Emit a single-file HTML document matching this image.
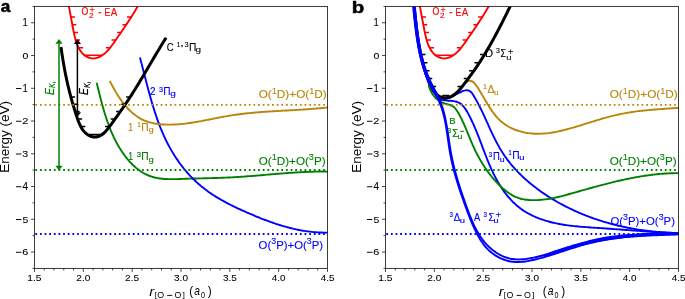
<!DOCTYPE html><html><head><meta charset="utf-8"><style>html,body{margin:0;padding:0;background:#fff;overflow:hidden}svg{display:block;will-change:transform}</style></head><body><svg width="685" height="299" viewBox="0 0 685 299" font-family="Liberation Sans, sans-serif">
<rect width="685" height="299" fill="#fff"/>
<defs><clipPath id="ca"><rect x="34.5" y="6.4" width="293" height="262"/></clipPath>
<clipPath id="cb"><rect x="385.5" y="6.4" width="293" height="262"/></clipPath></defs>
<g clip-path="url(#ca)">
<path d="M96.7,82.8 C96.78,83.12 97.02,84.09 97.18,84.74 C97.33,85.39 97.49,86.03 97.65,86.68 C97.81,87.33 97.97,87.98 98.13,88.63 C98.29,89.28 98.45,89.93 98.61,90.57 C98.77,91.22 98.93,91.87 99.09,92.52 C99.25,93.17 99.41,93.82 99.57,94.47 C99.74,95.12 99.9,95.78 100.07,96.43 C100.23,97.08 100.4,97.73 100.56,98.38 C100.73,99.03 100.9,99.68 101.07,100.33 C101.24,100.98 101.41,101.63 101.58,102.28 C101.76,102.93 101.93,103.57 102.11,104.22 C102.28,104.87 102.46,105.52 102.64,106.17 C102.82,106.82 103,107.46 103.19,108.11 C103.37,108.76 103.56,109.4 103.75,110.05 C103.94,110.7 104.13,111.34 104.32,111.99 C104.51,112.63 104.71,113.27 104.91,113.92 C105.11,114.56 105.31,115.2 105.51,115.84 C105.71,116.48 105.92,117.12 106.13,117.76 C106.34,118.4 106.55,119.04 106.77,119.68 C106.98,120.32 107.2,120.95 107.42,121.59 C107.65,122.22 107.87,122.85 108.1,123.49 C108.33,124.12 108.56,124.75 108.8,125.38 C109.04,126.01 109.28,126.64 109.52,127.26 C109.76,127.89 110.01,128.52 110.26,129.14 C110.51,129.76 110.77,130.39 111.03,131.01 C111.29,131.63 111.55,132.25 111.82,132.86 C112.09,133.48 112.36,134.1 112.64,134.71 C112.92,135.32 113.2,135.93 113.49,136.54 C113.77,137.15 114.06,137.76 114.36,138.37 C114.66,138.97 114.96,139.58 115.26,140.18 C115.57,140.78 115.88,141.38 116.2,141.98 C116.52,142.57 116.84,143.17 117.16,143.76 C117.49,144.36 117.82,144.95 118.16,145.53 C118.5,146.12 118.84,146.71 119.19,147.29 C119.54,147.87 119.9,148.46 120.26,149.03 C120.62,149.61 120.99,150.19 121.36,150.76 C121.73,151.33 122.11,151.9 122.5,152.46 C122.88,153.03 123.27,153.59 123.67,154.14 C124.06,154.7 124.47,155.25 124.87,155.79 C125.28,156.34 125.7,156.88 126.12,157.42 C126.54,157.95 126.96,158.48 127.39,159 C127.82,159.53 128.26,160.04 128.71,160.55 C129.15,161.06 129.6,161.57 130.05,162.06 C130.51,162.56 130.97,163.05 131.44,163.53 C131.9,164.01 132.38,164.48 132.86,164.94 C133.34,165.41 133.82,165.86 134.31,166.31 C134.8,166.76 135.3,167.19 135.8,167.62 C136.31,168.05 136.82,168.47 137.33,168.87 C137.85,169.28 138.37,169.68 138.9,170.07 C139.42,170.45 139.96,170.83 140.5,171.19 C141.04,171.56 141.58,171.91 142.13,172.25 C142.68,172.59 143.24,172.92 143.81,173.24 C144.37,173.56 144.94,173.86 145.52,174.15 C146.09,174.45 146.67,174.72 147.26,174.99 C147.85,175.25 148.44,175.51 149.04,175.74 C149.64,175.98 150.25,176.2 150.86,176.41 C151.48,176.62 152.1,176.81 152.72,176.99 C153.34,177.17 153.98,177.34 154.61,177.49 C155.25,177.64 155.89,177.78 156.53,177.91 C157.18,178.04 157.83,178.16 158.48,178.26 C159.14,178.37 159.8,178.46 160.46,178.55 C161.12,178.63 161.79,178.7 162.46,178.77 C163.13,178.83 163.8,178.89 164.48,178.94 C165.16,178.98 165.84,179.02 166.52,179.06 C167.2,179.09 167.88,179.11 168.57,179.13 C169.26,179.15 169.95,179.16 170.64,179.17 C171.33,179.17 172.02,179.17 172.71,179.17 C173.4,179.17 174.1,179.16 174.79,179.15 C175.49,179.13 176.18,179.12 176.88,179.1 C177.57,179.08 178.27,179.06 178.97,179.04 C179.66,179.02 180.36,178.99 181.05,178.97 C181.75,178.94 182.44,178.92 183.13,178.89 C183.83,178.86 184.52,178.84 185.21,178.81 C185.9,178.79 186.59,178.76 187.28,178.74 C187.96,178.72 188.65,178.7 189.33,178.67 C190.02,178.65 190.7,178.63 191.38,178.61 C192.06,178.59 192.74,178.57 193.42,178.55 C194.1,178.54 194.78,178.52 195.46,178.5 C196.13,178.48 196.81,178.46 197.48,178.45 C198.16,178.43 198.83,178.41 199.5,178.4 C200.18,178.38 200.85,178.37 201.52,178.35 C202.19,178.33 202.86,178.32 203.53,178.3 C204.2,178.29 204.87,178.27 205.53,178.25 C206.2,178.24 206.87,178.22 207.53,178.21 C208.2,178.19 208.87,178.17 209.53,178.16 C210.2,178.14 210.86,178.12 211.53,178.11 C212.19,178.09 212.85,178.07 213.52,178.05 C214.18,178.04 214.84,178.02 215.51,178 C216.17,177.98 216.83,177.96 217.49,177.94 C218.16,177.92 218.82,177.9 219.48,177.88 C220.14,177.85 220.81,177.83 221.47,177.81 C222.13,177.78 222.79,177.76 223.45,177.73 C224.12,177.71 224.78,177.68 225.44,177.66 C226.1,177.63 226.77,177.6 227.43,177.57 C228.09,177.54 228.75,177.51 229.42,177.48 C230.08,177.44 230.75,177.41 231.41,177.38 C232.07,177.34 232.74,177.3 233.4,177.27 C234.07,177.23 234.73,177.19 235.4,177.15 C236.06,177.11 236.73,177.07 237.4,177.03 C238.06,176.99 238.73,176.94 239.4,176.9 C240.06,176.85 240.73,176.81 241.4,176.76 C242.07,176.72 242.73,176.67 243.4,176.62 C244.07,176.57 244.74,176.52 245.41,176.48 C246.07,176.43 246.74,176.38 247.41,176.32 C248.08,176.27 248.75,176.22 249.42,176.17 C250.09,176.12 250.76,176.06 251.43,176.01 C252.1,175.96 252.77,175.9 253.44,175.85 C254.11,175.79 254.78,175.74 255.45,175.68 C256.12,175.63 256.8,175.57 257.47,175.52 C258.14,175.46 258.81,175.4 259.48,175.35 C260.15,175.29 260.82,175.23 261.5,175.18 C262.17,175.12 262.84,175.06 263.51,175.01 C264.18,174.95 264.86,174.89 265.53,174.83 C266.2,174.78 266.87,174.72 267.55,174.66 C268.22,174.6 268.89,174.55 269.57,174.49 C270.24,174.43 270.91,174.37 271.58,174.32 C272.26,174.26 272.93,174.2 273.6,174.15 C274.28,174.09 274.95,174.03 275.62,173.98 C276.3,173.92 276.97,173.86 277.64,173.81 C278.32,173.75 278.99,173.7 279.67,173.65 C280.34,173.59 281.01,173.54 281.69,173.48 C282.36,173.43 283.03,173.38 283.71,173.33 C284.38,173.27 285.05,173.22 285.73,173.17 C286.4,173.12 287.07,173.07 287.75,173.02 C288.42,172.97 289.09,172.92 289.77,172.88 C290.44,172.83 291.11,172.78 291.79,172.74 C292.46,172.69 293.13,172.64 293.81,172.6 C294.48,172.56 295.15,172.51 295.83,172.47 C296.5,172.43 297.17,172.39 297.85,172.35 C298.52,172.31 299.19,172.27 299.86,172.24 C300.54,172.2 301.21,172.16 301.88,172.13 C302.55,172.09 303.22,172.06 303.9,172.03 C304.57,172 305.24,171.96 305.91,171.94 C306.58,171.91 307.26,171.88 307.93,171.85 C308.6,171.83 309.27,171.8 309.94,171.78 C310.61,171.76 311.28,171.73 311.95,171.71 C312.62,171.69 313.29,171.68 313.96,171.66 C314.63,171.64 315.3,171.63 315.97,171.62 C316.64,171.6 317.31,171.59 317.98,171.58 C318.65,171.58 319.32,171.57 319.99,171.56 C320.66,171.56 321.33,171.55 321.99,171.55 C322.66,171.55 323.33,171.55 324,171.56 C324.67,171.56 325.33,171.56 326,171.57 C326.67,171.58 327.67,171.6 328,171.6" fill="none" stroke="#008000" stroke-width="1.9" stroke-linejoin="round" />
<path d="M139.9,57.4 C139.99,57.72 140.24,58.67 140.41,59.3 C140.58,59.94 140.75,60.58 140.92,61.21 C141.09,61.85 141.26,62.49 141.43,63.13 C141.6,63.77 141.77,64.41 141.93,65.05 C142.1,65.69 142.27,66.34 142.44,66.98 C142.6,67.63 142.77,68.27 142.94,68.92 C143.1,69.56 143.27,70.21 143.44,70.85 C143.6,71.5 143.77,72.15 143.94,72.8 C144.1,73.45 144.27,74.1 144.44,74.75 C144.6,75.4 144.77,76.05 144.94,76.7 C145.1,77.35 145.27,78 145.44,78.65 C145.61,79.3 145.77,79.95 145.94,80.61 C146.11,81.26 146.28,81.91 146.45,82.57 C146.62,83.22 146.79,83.87 146.96,84.53 C147.13,85.18 147.3,85.84 147.48,86.49 C147.65,87.14 147.82,87.8 148,88.45 C148.17,89.11 148.34,89.76 148.52,90.42 C148.7,91.07 148.87,91.73 149.05,92.38 C149.23,93.04 149.41,93.69 149.59,94.34 C149.77,95 149.95,95.65 150.13,96.31 C150.31,96.96 150.5,97.62 150.68,98.27 C150.87,98.92 151.05,99.58 151.24,100.23 C151.43,100.88 151.62,101.53 151.81,102.19 C152,102.84 152.19,103.49 152.39,104.14 C152.58,104.79 152.78,105.44 152.98,106.09 C153.17,106.74 153.37,107.39 153.58,108.04 C153.78,108.69 153.98,109.34 154.19,109.99 C154.39,110.63 154.6,111.28 154.81,111.93 C155.02,112.57 155.23,113.22 155.44,113.86 C155.65,114.51 155.87,115.15 156.09,115.79 C156.31,116.43 156.53,117.08 156.75,117.72 C156.97,118.36 157.2,119 157.43,119.63 C157.65,120.27 157.88,120.91 158.12,121.55 C158.35,122.18 158.58,122.82 158.82,123.45 C159.06,124.08 159.3,124.72 159.54,125.35 C159.79,125.98 160.03,126.61 160.28,127.24 C160.53,127.87 160.78,128.49 161.04,129.12 C161.29,129.74 161.55,130.37 161.81,130.99 C162.07,131.61 162.34,132.24 162.6,132.86 C162.87,133.47 163.14,134.09 163.41,134.71 C163.69,135.32 163.96,135.94 164.25,136.55 C164.53,137.16 164.81,137.78 165.1,138.39 C165.38,138.99 165.67,139.6 165.97,140.21 C166.26,140.81 166.56,141.42 166.86,142.02 C167.16,142.62 167.47,143.22 167.78,143.82 C168.09,144.41 168.4,145.01 168.72,145.6 C169.03,146.2 169.35,146.79 169.68,147.38 C170,147.97 170.33,148.55 170.66,149.14 C171,149.72 171.33,150.3 171.67,150.88 C172.01,151.46 172.35,152.04 172.7,152.62 C173.05,153.19 173.4,153.76 173.75,154.33 C174.11,154.9 174.46,155.47 174.83,156.04 C175.19,156.6 175.55,157.16 175.92,157.72 C176.29,158.28 176.67,158.84 177.04,159.39 C177.42,159.95 177.8,160.5 178.19,161.05 C178.57,161.59 178.96,162.14 179.35,162.68 C179.74,163.22 180.14,163.76 180.54,164.3 C180.94,164.84 181.34,165.37 181.75,165.9 C182.16,166.43 182.57,166.96 182.98,167.48 C183.4,168.01 183.82,168.53 184.24,169.04 C184.66,169.56 185.09,170.08 185.52,170.59 C185.95,171.1 186.38,171.6 186.82,172.11 C187.26,172.61 187.7,173.11 188.14,173.61 C188.59,174.11 189.04,174.6 189.49,175.09 C189.94,175.58 190.4,176.07 190.86,176.55 C191.32,177.03 191.78,177.51 192.25,177.98 C192.71,178.46 193.18,178.93 193.66,179.4 C194.13,179.87 194.61,180.33 195.09,180.79 C195.58,181.25 196.06,181.7 196.55,182.15 C197.04,182.61 197.53,183.05 198.03,183.5 C198.53,183.94 199.03,184.38 199.53,184.81 C200.04,185.25 200.55,185.68 201.06,186.11 C201.57,186.53 202.09,186.96 202.61,187.37 C203.13,187.79 203.65,188.2 204.18,188.61 C204.7,189.02 205.23,189.43 205.77,189.83 C206.3,190.23 206.84,190.62 207.38,191.02 C207.92,191.41 208.46,191.8 209.01,192.18 C209.56,192.56 210.11,192.94 210.66,193.32 C211.22,193.69 211.78,194.07 212.34,194.44 C212.9,194.8 213.46,195.17 214.02,195.53 C214.59,195.89 215.16,196.25 215.73,196.6 C216.3,196.96 216.88,197.31 217.45,197.65 C218.03,198 218.61,198.34 219.19,198.68 C219.77,199.02 220.36,199.36 220.94,199.7 C221.53,200.03 222.12,200.36 222.71,200.69 C223.3,201.02 223.89,201.34 224.49,201.66 C225.08,201.99 225.68,202.31 226.28,202.62 C226.88,202.94 227.48,203.25 228.08,203.57 C228.68,203.88 229.28,204.19 229.89,204.49 C230.49,204.8 231.1,205.1 231.71,205.4 C232.32,205.71 232.93,206.01 233.54,206.3 C234.15,206.6 234.76,206.9 235.38,207.19 C235.99,207.48 236.61,207.77 237.22,208.06 C237.84,208.35 238.45,208.64 239.07,208.92 C239.69,209.21 240.31,209.49 240.93,209.77 C241.55,210.06 242.17,210.34 242.79,210.61 C243.41,210.89 244.03,211.17 244.65,211.45 C245.27,211.72 245.89,212 246.51,212.27 C247.14,212.54 247.76,212.81 248.38,213.08 C249.01,213.35 249.63,213.62 250.25,213.89 C250.87,214.16 251.5,214.43 252.12,214.69 C252.75,214.96 253.37,215.22 253.99,215.48 C254.62,215.74 255.24,216.01 255.87,216.26 C256.49,216.52 257.12,216.78 257.75,217.04 C258.37,217.29 259,217.54 259.62,217.8 C260.25,218.05 260.88,218.3 261.5,218.54 C262.13,218.79 262.76,219.04 263.39,219.28 C264.02,219.53 264.65,219.77 265.27,220.01 C265.9,220.25 266.53,220.48 267.16,220.72 C267.79,220.95 268.42,221.18 269.06,221.41 C269.69,221.64 270.32,221.87 270.95,222.1 C271.58,222.32 272.22,222.54 272.85,222.76 C273.48,222.98 274.12,223.2 274.75,223.41 C275.39,223.63 276.02,223.84 276.66,224.05 C277.29,224.26 277.93,224.46 278.57,224.67 C279.2,224.87 279.84,225.07 280.48,225.27 C281.12,225.46 281.76,225.66 282.4,225.85 C283.04,226.04 283.68,226.22 284.32,226.41 C284.96,226.59 285.6,226.77 286.25,226.95 C286.89,227.13 287.53,227.3 288.18,227.47 C288.82,227.64 289.47,227.81 290.11,227.97 C290.76,228.13 291.41,228.29 292.05,228.45 C292.7,228.61 293.35,228.76 294,228.91 C294.65,229.05 295.3,229.2 295.95,229.34 C296.6,229.48 297.25,229.62 297.91,229.75 C298.56,229.88 299.21,230.01 299.87,230.13 C300.52,230.26 301.18,230.38 301.84,230.49 C302.49,230.61 303.15,230.72 303.81,230.83 C304.47,230.93 305.13,231.04 305.79,231.13 C306.45,231.23 307.11,231.33 307.77,231.42 C308.44,231.5 309.1,231.59 309.76,231.67 C310.43,231.75 311.1,231.82 311.76,231.89 C312.43,231.96 313.1,232.03 313.77,232.09 C314.44,232.15 315.11,232.21 315.78,232.26 C316.45,232.31 317.12,232.35 317.8,232.39 C318.47,232.43 319.15,232.47 319.82,232.5 C320.5,232.53 321.18,232.55 321.86,232.57 C322.54,232.59 323.22,232.61 323.9,232.62 C324.58,232.62 325.26,232.63 325.94,232.62 C326.63,232.62 327.66,232.6 328,232.6" fill="none" stroke="#0000ff" stroke-width="1.9" stroke-linejoin="round" stroke-linecap="butt"/>
<path d="M109.7,80.9 C109.85,81.18 110.28,82.03 110.58,82.6 C110.88,83.17 111.18,83.74 111.49,84.32 C111.8,84.9 112.11,85.48 112.43,86.06 C112.75,86.65 113.07,87.23 113.4,87.82 C113.73,88.41 114.06,89 114.4,89.59 C114.74,90.18 115.08,90.77 115.43,91.36 C115.78,91.95 116.13,92.54 116.49,93.13 C116.85,93.72 117.22,94.31 117.59,94.9 C117.96,95.48 118.34,96.07 118.72,96.65 C119.1,97.23 119.49,97.81 119.88,98.39 C120.28,98.97 120.68,99.54 121.08,100.11 C121.49,100.68 121.9,101.25 122.31,101.81 C122.73,102.36 123.15,102.92 123.58,103.47 C124.01,104.02 124.45,104.56 124.89,105.1 C125.33,105.64 125.77,106.17 126.23,106.69 C126.68,107.21 127.14,107.73 127.61,108.23 C128.07,108.74 128.54,109.24 129.02,109.73 C129.5,110.22 129.98,110.7 130.48,111.17 C130.97,111.64 131.46,112.1 131.97,112.55 C132.47,113 132.98,113.44 133.5,113.86 C134.02,114.29 134.54,114.7 135.07,115.11 C135.6,115.51 136.14,115.9 136.69,116.28 C137.23,116.66 137.78,117.02 138.34,117.37 C138.9,117.72 139.46,118.06 140.03,118.38 C140.61,118.7 141.19,119 141.77,119.3 C142.36,119.59 142.95,119.86 143.55,120.13 C144.15,120.39 144.75,120.64 145.36,120.88 C145.97,121.11 146.59,121.34 147.21,121.55 C147.83,121.76 148.46,121.95 149.09,122.14 C149.72,122.33 150.35,122.5 150.99,122.66 C151.63,122.82 152.28,122.97 152.93,123.11 C153.57,123.25 154.22,123.38 154.88,123.5 C155.53,123.62 156.19,123.72 156.85,123.82 C157.51,123.92 158.18,124.01 158.84,124.08 C159.51,124.16 160.18,124.23 160.85,124.29 C161.52,124.35 162.19,124.4 162.87,124.45 C163.54,124.49 164.21,124.53 164.89,124.55 C165.57,124.58 166.24,124.6 166.92,124.62 C167.6,124.63 168.27,124.64 168.95,124.64 C169.63,124.64 170.31,124.63 170.98,124.62 C171.66,124.6 172.34,124.59 173.01,124.56 C173.69,124.54 174.37,124.51 175.04,124.47 C175.72,124.44 176.39,124.4 177.07,124.35 C177.74,124.31 178.41,124.26 179.09,124.2 C179.76,124.15 180.44,124.09 181.11,124.03 C181.78,123.96 182.45,123.89 183.13,123.82 C183.8,123.75 184.47,123.67 185.14,123.59 C185.81,123.51 186.48,123.43 187.15,123.34 C187.83,123.25 188.5,123.16 189.17,123.06 C189.84,122.97 190.51,122.87 191.18,122.77 C191.85,122.67 192.52,122.56 193.18,122.46 C193.85,122.35 194.52,122.24 195.19,122.13 C195.86,122.02 196.53,121.9 197.2,121.79 C197.87,121.67 198.53,121.55 199.2,121.43 C199.87,121.31 200.54,121.19 201.2,121.06 C201.87,120.94 202.54,120.82 203.21,120.69 C203.87,120.56 204.54,120.43 205.21,120.31 C205.88,120.18 206.54,120.05 207.21,119.92 C207.88,119.79 208.54,119.65 209.21,119.52 C209.88,119.39 210.54,119.26 211.21,119.13 C211.88,118.99 212.54,118.86 213.21,118.73 C213.88,118.6 214.54,118.47 215.21,118.33 C215.88,118.2 216.54,118.07 217.21,117.94 C217.88,117.81 218.54,117.68 219.21,117.55 C219.88,117.42 220.54,117.3 221.21,117.17 C221.87,117.04 222.54,116.92 223.21,116.8 C223.88,116.67 224.54,116.55 225.21,116.43 C225.88,116.31 226.54,116.19 227.21,116.08 C227.88,115.96 228.54,115.85 229.21,115.74 C229.88,115.63 230.55,115.52 231.22,115.41 C231.88,115.31 232.55,115.2 233.22,115.1 C233.89,115 234.56,114.9 235.22,114.81 C235.89,114.71 236.56,114.62 237.23,114.53 C237.9,114.43 238.57,114.34 239.24,114.26 C239.9,114.17 240.57,114.09 241.24,114 C241.91,113.92 242.58,113.84 243.25,113.76 C243.92,113.68 244.59,113.6 245.26,113.53 C245.93,113.45 246.6,113.38 247.27,113.31 C247.94,113.24 248.61,113.17 249.28,113.1 C249.95,113.03 250.62,112.97 251.29,112.9 C251.96,112.84 252.63,112.78 253.3,112.72 C253.97,112.65 254.64,112.59 255.31,112.54 C255.99,112.48 256.66,112.42 257.33,112.36 C258,112.31 258.67,112.25 259.34,112.2 C260.01,112.15 260.68,112.1 261.36,112.05 C262.03,111.99 262.7,111.95 263.37,111.9 C264.04,111.85 264.71,111.8 265.39,111.75 C266.06,111.71 266.73,111.66 267.4,111.62 C268.07,111.57 268.75,111.53 269.42,111.49 C270.09,111.44 270.76,111.4 271.43,111.36 C272.11,111.32 272.78,111.28 273.45,111.24 C274.12,111.2 274.8,111.16 275.47,111.12 C276.14,111.08 276.81,111.04 277.49,111 C278.16,110.96 278.83,110.92 279.51,110.89 C280.18,110.85 280.85,110.81 281.52,110.77 C282.2,110.74 282.87,110.7 283.54,110.66 C284.22,110.62 284.89,110.59 285.56,110.55 C286.24,110.51 286.91,110.48 287.58,110.44 C288.26,110.4 288.93,110.37 289.6,110.33 C290.28,110.29 290.95,110.26 291.62,110.22 C292.3,110.18 292.97,110.14 293.64,110.1 C294.32,110.07 294.99,110.03 295.66,109.99 C296.34,109.95 297.01,109.91 297.68,109.87 C298.36,109.83 299.03,109.79 299.7,109.75 C300.38,109.71 301.05,109.67 301.73,109.62 C302.4,109.58 303.07,109.54 303.75,109.49 C304.42,109.45 305.09,109.41 305.77,109.36 C306.44,109.31 307.12,109.27 307.79,109.22 C308.46,109.17 309.14,109.12 309.81,109.07 C310.48,109.03 311.16,108.97 311.83,108.92 C312.51,108.87 313.18,108.82 313.85,108.76 C314.53,108.71 315.2,108.65 315.87,108.6 C316.55,108.54 317.22,108.48 317.9,108.42 C318.57,108.36 319.24,108.3 319.92,108.24 C320.59,108.17 321.26,108.11 321.94,108.04 C322.61,107.98 323.29,107.91 323.96,107.84 C324.63,107.77 325.31,107.7 325.98,107.62 C326.65,107.55 327.66,107.44 328,107.4" fill="none" stroke="#b8860b" stroke-width="1.9" stroke-linejoin="round" />
<path d="M67.6,-0 C67.67,0.35 67.89,1.41 68.03,2.1 C68.17,2.79 68.31,3.48 68.44,4.16 C68.58,4.84 68.71,5.51 68.84,6.18 C68.97,6.85 69.1,7.52 69.22,8.18 C69.35,8.84 69.48,9.5 69.6,10.15 C69.72,10.81 69.84,11.46 69.97,12.11 C70.09,12.76 70.21,13.4 70.33,14.05 C70.45,14.69 70.56,15.34 70.68,15.98 C70.8,16.63 70.92,17.27 71.04,17.91 C71.16,18.56 71.28,19.2 71.4,19.85 C71.52,20.5 71.64,21.14 71.76,21.79 C71.88,22.44 72,23.09 72.13,23.75 C72.25,24.41 72.37,25.06 72.5,25.73 C72.63,26.39 72.76,27.05 72.89,27.73 C73.02,28.4 73.15,29.07 73.29,29.76 C73.42,30.44 73.56,31.13 73.7,31.82 C73.84,32.51 73.99,33.21 74.14,33.91 C74.29,34.61 74.44,35.32 74.61,36.02 C74.77,36.73 74.94,37.43 75.12,38.13 C75.3,38.83 75.49,39.53 75.69,40.22 C75.89,40.91 76.1,41.6 76.33,42.28 C76.55,42.96 76.79,43.63 77.04,44.29 C77.3,44.95 77.56,45.6 77.85,46.24 C78.13,46.87 78.43,47.5 78.75,48.1 C79.07,48.71 79.41,49.3 79.77,49.87 C80.13,50.44 80.51,51 80.91,51.53 C81.31,52.06 81.74,52.58 82.19,53.06 C82.64,53.55 83.11,54.01 83.61,54.45 C84.1,54.88 84.62,55.29 85.15,55.67 C85.68,56.04 86.24,56.39 86.8,56.7 C87.37,57.01 87.95,57.28 88.54,57.51 C89.13,57.74 89.73,57.94 90.33,58.08 C90.94,58.23 91.55,58.33 92.17,58.39 C92.78,58.44 93.4,58.44 94.01,58.4 C94.63,58.36 95.25,58.27 95.86,58.13 C96.48,58 97.09,57.82 97.7,57.61 C98.3,57.39 98.91,57.14 99.5,56.85 C100.1,56.57 100.69,56.24 101.27,55.89 C101.85,55.55 102.42,55.17 102.98,54.76 C103.55,54.36 104.1,53.93 104.63,53.49 C105.17,53.04 105.7,52.58 106.21,52.1 C106.71,51.62 107.21,51.12 107.69,50.61 C108.17,50.11 108.64,49.58 109.1,49.05 C109.55,48.52 110,47.98 110.43,47.43 C110.87,46.88 111.3,46.33 111.72,45.76 C112.14,45.2 112.55,44.63 112.96,44.06 C113.36,43.5 113.76,42.92 114.16,42.35 C114.56,41.77 114.96,41.2 115.35,40.63 C115.74,40.05 116.13,39.48 116.52,38.91 C116.92,38.35 117.3,37.78 117.69,37.22 C118.08,36.65 118.47,36.09 118.86,35.53 C119.24,34.97 119.63,34.41 120.01,33.85 C120.4,33.29 120.78,32.73 121.16,32.18 C121.54,31.62 121.93,31.07 122.3,30.51 C122.68,29.96 123.06,29.4 123.44,28.85 C123.82,28.3 124.19,27.74 124.57,27.19 C124.94,26.64 125.32,26.08 125.69,25.53 C126.06,24.97 126.43,24.42 126.8,23.87 C127.17,23.31 127.54,22.75 127.91,22.2 C128.27,21.64 128.64,21.08 129,20.52 C129.37,19.96 129.73,19.4 130.09,18.84 C130.46,18.28 130.82,17.71 131.17,17.15 C131.53,16.58 131.89,16.01 132.25,15.44 C132.6,14.87 132.96,14.3 133.31,13.72 C133.66,13.15 134.01,12.57 134.37,11.99 C134.72,11.41 135.06,10.82 135.41,10.23 C135.76,9.65 136.1,9.05 136.45,8.46 C136.79,7.87 137.13,7.27 137.47,6.66 C137.82,6.06 138.15,5.46 138.49,4.85 C138.83,4.23 139.33,3.31 139.5,3" fill="none" stroke="#ff0000" stroke-width="1.9" stroke-linejoin="round" />
<line x1="70.98" y1="17" x2="74.98" y2="17" stroke="#ff0000" stroke-width="1.5" />
<line x1="127.06" y1="17" x2="131.06" y2="17" stroke="#ff0000" stroke-width="1.5" />
<line x1="72.25" y1="24.8" x2="76.25" y2="24.8" stroke="#ff0000" stroke-width="1.5" />
<line x1="122.42" y1="24.8" x2="126.42" y2="24.8" stroke="#ff0000" stroke-width="1.5" />
<line x1="73.91" y1="32.4" x2="77.91" y2="32.4" stroke="#ff0000" stroke-width="1.5" />
<line x1="117.14" y1="32.4" x2="121.14" y2="32.4" stroke="#ff0000" stroke-width="1.5" />
<line x1="75.95" y1="40.1" x2="79.95" y2="40.1" stroke="#ff0000" stroke-width="1.5" />
<line x1="111.57" y1="40.1" x2="115.57" y2="40.1" stroke="#ff0000" stroke-width="1.5" />
<line x1="79.07" y1="47.8" x2="83.07" y2="47.8" stroke="#ff0000" stroke-width="1.5" />
<line x1="105.8" y1="47.8" x2="109.8" y2="47.8" stroke="#ff0000" stroke-width="1.5" />
<line x1="84.9" y1="55.3" x2="101.8" y2="55.3" stroke="#ff0000" stroke-width="1.5" />
<path d="M61,47 C61.05,47.35 61.19,48.39 61.29,49.08 C61.38,49.77 61.48,50.46 61.58,51.14 C61.68,51.83 61.78,52.51 61.88,53.2 C61.98,53.88 62.08,54.56 62.18,55.23 C62.29,55.91 62.39,56.59 62.5,57.26 C62.6,57.94 62.71,58.61 62.82,59.28 C62.93,59.95 63.04,60.62 63.15,61.28 C63.26,61.95 63.37,62.62 63.48,63.28 C63.6,63.94 63.71,64.61 63.83,65.27 C63.95,65.93 64.07,66.59 64.19,67.25 C64.31,67.9 64.43,68.56 64.55,69.22 C64.67,69.87 64.8,70.53 64.92,71.18 C65.05,71.84 65.18,72.49 65.31,73.14 C65.43,73.79 65.57,74.44 65.7,75.1 C65.83,75.75 65.96,76.4 66.1,77.04 C66.24,77.69 66.37,78.34 66.51,78.99 C66.65,79.64 66.79,80.29 66.94,80.93 C67.08,81.58 67.22,82.23 67.37,82.87 C67.52,83.52 67.67,84.17 67.82,84.81 C67.97,85.46 68.12,86.11 68.27,86.75 C68.43,87.4 68.58,88.04 68.74,88.69 C68.9,89.34 69.06,89.98 69.22,90.63 C69.38,91.28 69.55,91.92 69.71,92.57 C69.88,93.22 70.05,93.87 70.22,94.52 C70.39,95.16 70.56,95.81 70.73,96.46 C70.91,97.11 71.09,97.76 71.26,98.41 C71.44,99.06 71.62,99.71 71.81,100.37 C71.99,101.02 72.18,101.67 72.36,102.33 C72.55,102.98 72.74,103.64 72.93,104.29 C73.13,104.95 73.32,105.61 73.52,106.27 C73.72,106.93 73.91,107.59 74.12,108.25 C74.32,108.91 74.52,109.57 74.73,110.24 C74.93,110.9 75.14,111.57 75.36,112.24 C75.57,112.9 75.78,113.57 76,114.24 C76.21,114.92 76.43,115.59 76.65,116.26 C76.88,116.94 77.1,117.61 77.33,118.29 C77.56,118.96 77.8,119.63 78.04,120.3 C78.29,120.96 78.54,121.63 78.8,122.28 C79.06,122.93 79.33,123.58 79.61,124.21 C79.89,124.85 80.19,125.47 80.5,126.08 C80.81,126.69 81.13,127.29 81.47,127.87 C81.81,128.44 82.16,129.01 82.54,129.55 C82.91,130.09 83.31,130.62 83.72,131.12 C84.13,131.61 84.57,132.09 85.02,132.54 C85.48,133 85.96,133.42 86.47,133.82 C86.97,134.22 87.51,134.59 88.06,134.92 C88.61,135.26 89.19,135.56 89.78,135.83 C90.37,136.09 90.98,136.32 91.6,136.5 C92.21,136.68 92.84,136.81 93.46,136.9 C94.08,136.98 94.7,137.02 95.32,137 C95.93,136.98 96.54,136.91 97.14,136.79 C97.73,136.66 98.32,136.49 98.89,136.28 C99.46,136.06 100.02,135.79 100.56,135.49 C101.11,135.19 101.64,134.85 102.16,134.48 C102.69,134.1 103.2,133.69 103.7,133.25 C104.2,132.81 104.69,132.34 105.17,131.85 C105.65,131.36 106.13,130.84 106.59,130.31 C107.06,129.78 107.52,129.23 107.97,128.67 C108.42,128.1 108.87,127.52 109.31,126.94 C109.75,126.36 110.18,125.77 110.61,125.18 C111.04,124.59 111.47,124 111.89,123.41 C112.31,122.82 112.73,122.24 113.15,121.66 C113.56,121.08 113.98,120.5 114.39,119.93 C114.8,119.36 115.2,118.79 115.61,118.22 C116.01,117.65 116.41,117.09 116.81,116.53 C117.21,115.97 117.61,115.41 118,114.85 C118.4,114.29 118.79,113.74 119.18,113.19 C119.57,112.63 119.95,112.08 120.34,111.53 C120.72,110.98 121.11,110.44 121.49,109.89 C121.87,109.34 122.25,108.8 122.63,108.25 C123,107.71 123.38,107.16 123.75,106.62 C124.13,106.07 124.5,105.53 124.87,104.98 C125.24,104.44 125.61,103.89 125.98,103.35 C126.35,102.8 126.71,102.26 127.08,101.71 C127.44,101.16 127.81,100.62 128.17,100.07 C128.53,99.52 128.9,98.97 129.26,98.42 C129.62,97.86 129.98,97.31 130.34,96.76 C130.7,96.2 131.06,95.64 131.42,95.08 C131.78,94.52 132.14,93.96 132.49,93.4 C132.85,92.83 133.21,92.27 133.56,91.7 C133.92,91.14 134.28,90.57 134.63,90 C134.99,89.43 135.34,88.86 135.69,88.28 C136.05,87.71 136.4,87.14 136.76,86.56 C137.11,85.99 137.46,85.41 137.81,84.83 C138.17,84.25 138.52,83.68 138.87,83.1 C139.22,82.52 139.57,81.93 139.92,81.35 C140.27,80.77 140.62,80.19 140.97,79.6 C141.32,79.02 141.67,78.43 142.02,77.85 C142.37,77.26 142.72,76.68 143.07,76.09 C143.41,75.5 143.76,74.92 144.11,74.33 C144.46,73.74 144.81,73.15 145.16,72.56 C145.5,71.97 145.85,71.39 146.2,70.8 C146.55,70.21 146.89,69.62 147.24,69.03 C147.59,68.44 147.93,67.85 148.28,67.26 C148.63,66.67 148.98,66.08 149.32,65.49 C149.67,64.9 150.02,64.31 150.36,63.72 C150.71,63.13 151.06,62.54 151.4,61.95 C151.75,61.36 152.1,60.77 152.44,60.18 C152.79,59.6 153.14,59.01 153.49,58.42 C153.83,57.83 154.18,57.25 154.53,56.66 C154.88,56.07 155.22,55.49 155.57,54.9 C155.92,54.32 156.27,53.73 156.62,53.15 C156.96,52.57 157.31,51.98 157.66,51.4 C158.01,50.82 158.36,50.24 158.71,49.66 C159.06,49.08 159.41,48.5 159.76,47.93 C160.11,47.35 160.46,46.78 160.81,46.2 C161.16,45.63 161.51,45.05 161.86,44.48 C162.21,43.91 162.56,43.34 162.92,42.77 C163.27,42.2 163.62,41.64 163.97,41.07 C164.33,40.51 164.68,39.94 165.04,39.38 C165.39,38.82 165.92,37.98 166.1,37.7" fill="none" stroke="#000000" stroke-width="3" stroke-linejoin="round" stroke-linecap="butt"/>
<line x1="70.79" y1="96.9" x2="75.09" y2="96.9" stroke="#000000" stroke-width="1.5" />
<line x1="126.08" y1="96.9" x2="130.38" y2="96.9" stroke="#000000" stroke-width="1.5" />
<line x1="73.01" y1="104.2" x2="77.31" y2="104.2" stroke="#000000" stroke-width="1.5" />
<line x1="121.29" y1="104.2" x2="125.59" y2="104.2" stroke="#000000" stroke-width="1.5" />
<line x1="75.35" y1="111.6" x2="79.65" y2="111.6" stroke="#000000" stroke-width="1.5" />
<line x1="116.04" y1="111.6" x2="120.34" y2="111.6" stroke="#000000" stroke-width="1.5" />
<line x1="77.75" y1="119" x2="82.05" y2="119" stroke="#000000" stroke-width="1.5" />
<line x1="110.7" y1="119" x2="115" y2="119" stroke="#000000" stroke-width="1.5" />
<line x1="81" y1="126.5" x2="85.3" y2="126.5" stroke="#000000" stroke-width="1.5" />
<line x1="105.01" y1="126.5" x2="109.31" y2="126.5" stroke="#000000" stroke-width="1.5" />
<line x1="87.8" y1="134.4" x2="101.2" y2="134.4" stroke="#000000" stroke-width="1.5" />
<line x1="34.5" y1="104.8" x2="327.5" y2="104.8" stroke="#b8860b" stroke-width="1.8" stroke-dasharray="1.75 2.892" stroke-dashoffset="-0.8"/>
<line x1="34.5" y1="170" x2="327.5" y2="170" stroke="#008000" stroke-width="1.8" stroke-dasharray="1.75 2.892" stroke-dashoffset="-0.8"/>
<line x1="34.5" y1="234" x2="327.5" y2="234" stroke="#0000ff" stroke-width="1.8" stroke-dasharray="1.75 2.892" stroke-dashoffset="-0.8"/>
</g>
<line x1="59" y1="166.3" x2="59" y2="43.3" stroke="#008000" stroke-width="1.5" />
<path d="M59,39 L55.4,43.8 L62.6,43.8 Z" fill="#008000"/>
<path d="M59,170.6 L55.4,165.8 L62.6,165.8 Z" fill="#008000"/>
<line x1="77.4" y1="112.7" x2="77.4" y2="43.6" stroke="#000000" stroke-width="1.5" />
<path d="M77.4,39.3 L73.8,44.1 L81,44.1 Z" fill="#000000"/>
<path d="M77.4,117 L73.8,112.2 L81,112.2 Z" fill="#000000"/>
<g clip-path="url(#cb)">
<path d="M433,86 C433.09,86.35 433.31,87.42 433.53,88.09 C433.76,88.77 434.04,89.43 434.36,90.05 C434.67,90.68 435.04,91.29 435.43,91.86 C435.83,92.43 436.26,92.98 436.73,93.48 C437.19,93.99 437.68,94.46 438.2,94.89 C438.71,95.32 439.26,95.71 439.81,96.06 C440.37,96.4 440.95,96.71 441.54,96.96 C442.12,97.21 442.73,97.42 443.33,97.56 C443.93,97.71 444.55,97.81 445.16,97.85 C445.77,97.88 446.38,97.86 446.99,97.78 C447.59,97.7 448.19,97.56 448.79,97.37 C449.39,97.18 449.98,96.94 450.56,96.66 C451.15,96.37 451.73,96.04 452.3,95.67 C452.87,95.31 453.44,94.9 453.99,94.46 C454.55,94.02 455.09,93.55 455.63,93.06 C456.16,92.56 456.69,92.03 457.2,91.49 C457.72,90.95 458.22,90.39 458.71,89.82 C459.21,89.25 459.68,88.65 460.16,88.08 C460.64,87.5 461.11,86.92 461.59,86.36 C462.06,85.8 462.53,85.25 463.02,84.74 C463.5,84.23 463.98,83.74 464.48,83.3 C464.98,82.86 465.49,82.46 466.01,82.12 C466.54,81.78 467.09,81.48 467.64,81.28 C468.19,81.07 468.76,80.91 469.32,80.87 C469.87,80.82 470.43,80.86 470.96,80.99 C471.49,81.13 472.01,81.37 472.51,81.67 C473.01,81.98 473.49,82.37 473.96,82.81 C474.44,83.25 474.89,83.76 475.33,84.29 C475.78,84.82 476.21,85.41 476.63,86 C477.04,86.59 477.45,87.22 477.84,87.83 C478.24,88.44 478.62,89.06 478.99,89.67 C479.36,90.27 479.72,90.86 480.08,91.45 C480.43,92.03 480.78,92.61 481.12,93.18 C481.46,93.76 481.8,94.32 482.13,94.89 C482.46,95.45 482.79,96.01 483.12,96.57 C483.44,97.13 483.77,97.69 484.1,98.25 C484.43,98.81 484.75,99.38 485.09,99.94 C485.42,100.51 485.75,101.08 486.09,101.66 C486.43,102.23 486.78,102.81 487.13,103.39 C487.48,103.97 487.83,104.55 488.19,105.13 C488.55,105.71 488.91,106.3 489.28,106.88 C489.65,107.46 490.02,108.04 490.4,108.61 C490.78,109.19 491.17,109.77 491.56,110.34 C491.95,110.91 492.35,111.47 492.76,112.03 C493.17,112.59 493.58,113.15 494,113.7 C494.42,114.25 494.85,114.79 495.28,115.32 C495.72,115.86 496.16,116.38 496.61,116.9 C497.07,117.41 497.53,117.92 498,118.41 C498.47,118.91 498.94,119.39 499.43,119.86 C499.92,120.33 500.41,120.79 500.92,121.24 C501.43,121.68 501.94,122.11 502.46,122.53 C502.99,122.95 503.52,123.36 504.06,123.75 C504.6,124.15 505.15,124.53 505.7,124.9 C506.26,125.27 506.82,125.62 507.39,125.97 C507.96,126.31 508.54,126.64 509.12,126.96 C509.71,127.28 510.3,127.59 510.9,127.89 C511.49,128.18 512.1,128.47 512.7,128.74 C513.31,129.01 513.93,129.27 514.54,129.52 C515.16,129.77 515.79,130.01 516.42,130.23 C517.05,130.46 517.68,130.67 518.32,130.88 C518.95,131.08 519.6,131.27 520.24,131.45 C520.88,131.64 521.53,131.81 522.19,131.96 C522.84,132.12 523.49,132.27 524.15,132.41 C524.81,132.55 525.47,132.67 526.13,132.79 C526.79,132.91 527.45,133.01 528.12,133.11 C528.79,133.21 529.45,133.29 530.12,133.37 C530.79,133.44 531.46,133.51 532.13,133.56 C532.8,133.62 533.47,133.66 534.14,133.7 C534.81,133.73 535.48,133.76 536.15,133.77 C536.82,133.79 537.49,133.79 538.16,133.79 C538.83,133.79 539.51,133.78 540.18,133.76 C540.85,133.74 541.52,133.71 542.19,133.67 C542.86,133.64 543.53,133.59 544.2,133.54 C544.87,133.48 545.54,133.42 546.21,133.36 C546.88,133.29 547.55,133.21 548.22,133.13 C548.89,133.05 549.56,132.96 550.23,132.87 C550.9,132.77 551.56,132.67 552.23,132.56 C552.9,132.45 553.57,132.34 554.24,132.22 C554.9,132.1 555.57,131.97 556.24,131.84 C556.9,131.71 557.57,131.57 558.23,131.43 C558.9,131.29 559.56,131.15 560.23,131 C560.89,130.85 561.56,130.69 562.22,130.53 C562.88,130.37 563.54,130.21 564.21,130.05 C564.87,129.88 565.53,129.71 566.19,129.54 C566.85,129.36 567.51,129.19 568.16,129.01 C568.82,128.83 569.48,128.65 570.14,128.46 C570.79,128.28 571.45,128.09 572.1,127.9 C572.76,127.71 573.41,127.52 574.07,127.33 C574.72,127.14 575.37,126.94 576.02,126.75 C576.67,126.55 577.32,126.36 577.97,126.16 C578.62,125.96 579.27,125.77 579.91,125.57 C580.56,125.37 581.21,125.17 581.85,124.97 C582.5,124.77 583.14,124.57 583.79,124.37 C584.43,124.16 585.08,123.96 585.72,123.76 C586.36,123.56 587.01,123.36 587.65,123.16 C588.29,122.95 588.94,122.75 589.58,122.55 C590.22,122.35 590.86,122.15 591.5,121.95 C592.14,121.75 592.79,121.55 593.43,121.35 C594.07,121.15 594.71,120.95 595.35,120.75 C595.99,120.55 596.63,120.36 597.27,120.16 C597.92,119.97 598.56,119.77 599.2,119.58 C599.84,119.39 600.48,119.2 601.12,119.01 C601.77,118.82 602.41,118.63 603.05,118.44 C603.7,118.26 604.34,118.07 604.98,117.89 C605.63,117.71 606.27,117.53 606.92,117.35 C607.56,117.17 608.21,117 608.85,116.83 C609.5,116.65 610.15,116.48 610.8,116.31 C611.44,116.15 612.09,115.98 612.74,115.82 C613.39,115.66 614.04,115.5 614.7,115.34 C615.35,115.19 616,115.04 616.65,114.89 C617.31,114.74 617.96,114.59 618.62,114.45 C619.28,114.31 619.93,114.17 620.59,114.04 C621.25,113.9 621.91,113.77 622.57,113.64 C623.23,113.51 623.9,113.39 624.56,113.27 C625.22,113.15 625.89,113.03 626.55,112.91 C627.22,112.8 627.88,112.69 628.55,112.58 C629.22,112.47 629.89,112.37 630.56,112.26 C631.22,112.16 631.89,112.06 632.56,111.96 C633.23,111.87 633.91,111.77 634.58,111.68 C635.25,111.59 635.92,111.5 636.59,111.41 C637.27,111.32 637.94,111.24 638.61,111.16 C639.29,111.08 639.96,111 640.64,110.92 C641.31,110.84 641.99,110.76 642.66,110.69 C643.34,110.62 644.01,110.54 644.69,110.47 C645.37,110.4 646.04,110.34 646.72,110.27 C647.4,110.2 648.07,110.14 648.75,110.08 C649.43,110.01 650.1,109.95 650.78,109.89 C651.46,109.83 652.13,109.77 652.81,109.71 C653.49,109.66 654.16,109.6 654.84,109.55 C655.52,109.49 656.19,109.44 656.87,109.38 C657.55,109.33 658.22,109.28 658.9,109.23 C659.57,109.18 660.25,109.13 660.92,109.08 C661.6,109.03 662.27,108.98 662.95,108.93 C663.62,108.88 664.3,108.83 664.97,108.79 C665.64,108.74 666.31,108.69 666.99,108.64 C667.66,108.6 668.33,108.55 669,108.5 C669.67,108.46 670.34,108.41 671.01,108.37 C671.68,108.32 672.35,108.27 673.02,108.23 C673.68,108.18 674.35,108.13 675.02,108.09 C675.68,108.04 676.35,107.99 677.01,107.94 C677.68,107.9 678.67,107.82 679,107.8" fill="none" stroke="#b8860b" stroke-width="1.9" stroke-linejoin="round" />
<path d="M438,98 C438.27,98.17 439.03,98.7 439.6,98.98 C440.16,99.26 440.76,99.48 441.37,99.67 C441.99,99.86 442.64,100.01 443.3,100.13 C443.95,100.26 444.63,100.35 445.32,100.43 C446.01,100.51 446.71,100.56 447.41,100.61 C448.11,100.67 448.83,100.7 449.53,100.75 C450.23,100.8 450.94,100.84 451.64,100.9 C452.33,100.97 453.02,101.03 453.69,101.13 C454.36,101.23 455.03,101.34 455.66,101.5 C456.3,101.65 456.92,101.83 457.5,102.06 C458.09,102.29 458.65,102.55 459.19,102.86 C459.73,103.16 460.24,103.51 460.74,103.88 C461.23,104.25 461.7,104.66 462.15,105.1 C462.6,105.53 463.03,105.99 463.45,106.48 C463.87,106.96 464.27,107.47 464.65,107.99 C465.04,108.52 465.41,109.06 465.77,109.62 C466.14,110.17 466.49,110.74 466.83,111.32 C467.17,111.9 467.5,112.49 467.83,113.07 C468.16,113.66 468.48,114.26 468.8,114.85 C469.11,115.45 469.43,116.04 469.74,116.64 C470.04,117.24 470.35,117.84 470.65,118.44 C470.95,119.05 471.24,119.65 471.53,120.26 C471.82,120.86 472.11,121.47 472.39,122.08 C472.68,122.69 472.96,123.3 473.23,123.91 C473.51,124.52 473.78,125.13 474.05,125.75 C474.33,126.36 474.59,126.98 474.86,127.6 C475.12,128.21 475.38,128.83 475.64,129.45 C475.9,130.07 476.16,130.69 476.41,131.31 C476.67,131.93 476.92,132.56 477.17,133.18 C477.42,133.8 477.67,134.43 477.91,135.05 C478.16,135.67 478.4,136.3 478.65,136.93 C478.89,137.55 479.13,138.18 479.37,138.81 C479.61,139.43 479.85,140.06 480.09,140.69 C480.33,141.32 480.57,141.95 480.81,142.58 C481.05,143.2 481.28,143.83 481.52,144.46 C481.76,145.09 481.99,145.72 482.23,146.35 C482.47,146.98 482.7,147.61 482.94,148.24 C483.18,148.87 483.41,149.5 483.65,150.13 C483.89,150.76 484.13,151.39 484.37,152.02 C484.61,152.64 484.85,153.27 485.09,153.9 C485.33,154.53 485.57,155.16 485.81,155.78 C486.06,156.41 486.3,157.04 486.55,157.67 C486.8,158.29 487.05,158.92 487.3,159.54 C487.55,160.17 487.8,160.79 488.06,161.41 C488.31,162.04 488.57,162.66 488.83,163.28 C489.09,163.9 489.35,164.52 489.62,165.14 C489.88,165.76 490.15,166.38 490.42,167 C490.69,167.62 490.97,168.23 491.24,168.85 C491.52,169.46 491.8,170.08 492.09,170.69 C492.37,171.3 492.66,171.91 492.95,172.52 C493.25,173.13 493.54,173.74 493.84,174.34 C494.14,174.95 494.45,175.56 494.76,176.16 C495.07,176.76 495.38,177.36 495.7,177.96 C496.02,178.56 496.34,179.16 496.67,179.75 C497,180.35 497.33,180.94 497.67,181.53 C498.01,182.12 498.36,182.71 498.7,183.3 C499.05,183.88 499.41,184.46 499.77,185.04 C500.12,185.62 500.49,186.2 500.86,186.77 C501.23,187.34 501.6,187.91 501.98,188.48 C502.36,189.04 502.74,189.6 503.13,190.16 C503.52,190.72 503.92,191.27 504.32,191.82 C504.72,192.36 505.13,192.91 505.54,193.45 C505.95,193.98 506.37,194.52 506.79,195.05 C507.21,195.58 507.64,196.1 508.07,196.62 C508.51,197.13 508.95,197.65 509.39,198.15 C509.83,198.66 510.29,199.16 510.74,199.65 C511.2,200.15 511.66,200.63 512.13,201.11 C512.59,201.59 513.07,202.07 513.55,202.54 C514.03,203 514.51,203.46 515,203.92 C515.49,204.37 515.99,204.82 516.49,205.25 C517,205.69 517.5,206.12 518.02,206.54 C518.53,206.97 519.05,207.38 519.58,207.79 C520.11,208.19 520.64,208.59 521.18,208.98 C521.72,209.37 522.26,209.75 522.82,210.12 C523.37,210.49 523.92,210.86 524.48,211.22 C525.05,211.57 525.61,211.92 526.18,212.26 C526.76,212.6 527.33,212.93 527.91,213.26 C528.5,213.59 529.08,213.9 529.67,214.21 C530.26,214.52 530.86,214.83 531.46,215.12 C532.06,215.42 532.66,215.71 533.27,215.99 C533.88,216.27 534.49,216.54 535.1,216.81 C535.72,217.08 536.33,217.34 536.96,217.59 C537.58,217.84 538.2,218.09 538.83,218.33 C539.46,218.57 540.09,218.8 540.72,219.03 C541.35,219.26 541.99,219.48 542.62,219.69 C543.26,219.91 543.9,220.12 544.54,220.32 C545.19,220.52 545.83,220.72 546.47,220.91 C547.12,221.1 547.77,221.28 548.42,221.46 C549.06,221.64 549.71,221.81 550.37,221.98 C551.02,222.15 551.67,222.31 552.32,222.47 C552.97,222.63 553.63,222.78 554.28,222.93 C554.94,223.08 555.6,223.22 556.25,223.35 C556.91,223.49 557.57,223.63 558.23,223.75 C558.89,223.88 559.55,224.01 560.21,224.13 C560.87,224.24 561.53,224.36 562.2,224.47 C562.86,224.58 563.52,224.69 564.19,224.79 C564.85,224.9 565.52,225 566.18,225.09 C566.85,225.19 567.52,225.28 568.18,225.37 C568.85,225.46 569.52,225.55 570.19,225.63 C570.86,225.71 571.53,225.79 572.2,225.87 C572.86,225.95 573.54,226.02 574.21,226.09 C574.88,226.17 575.55,226.23 576.22,226.3 C576.89,226.37 577.56,226.43 578.24,226.5 C578.91,226.56 579.58,226.62 580.25,226.68 C580.93,226.73 581.6,226.79 582.27,226.85 C582.95,226.9 583.62,226.95 584.29,227.01 C584.97,227.06 585.64,227.11 586.32,227.16 C586.99,227.21 587.67,227.26 588.34,227.3 C589.01,227.35 589.69,227.4 590.36,227.44 C591.04,227.49 591.71,227.54 592.39,227.58 C593.06,227.63 593.74,227.67 594.41,227.71 C595.09,227.76 595.76,227.8 596.43,227.85 C597.11,227.89 597.78,227.93 598.46,227.98 C599.13,228.02 599.8,228.07 600.48,228.11 C601.15,228.16 601.82,228.2 602.5,228.25 C603.17,228.3 603.84,228.34 604.51,228.39 C605.19,228.44 605.86,228.48 606.53,228.53 C607.2,228.58 607.87,228.63 608.54,228.68 C609.22,228.72 609.89,228.77 610.56,228.82 C611.23,228.87 611.9,228.92 612.57,228.97 C613.24,229.02 613.91,229.07 614.58,229.12 C615.25,229.17 615.92,229.22 616.59,229.27 C617.26,229.32 617.93,229.37 618.6,229.42 C619.27,229.47 619.94,229.52 620.61,229.57 C621.28,229.62 621.95,229.67 622.62,229.72 C623.29,229.77 623.96,229.82 624.63,229.87 C625.3,229.92 625.97,229.97 626.63,230.02 C627.3,230.07 627.97,230.12 628.64,230.17 C629.31,230.22 629.98,230.27 630.65,230.32 C631.32,230.37 631.99,230.42 632.65,230.47 C633.32,230.52 633.99,230.57 634.66,230.62 C635.33,230.67 636,230.72 636.67,230.77 C637.34,230.82 638.01,230.86 638.67,230.91 C639.34,230.96 640.01,231.01 640.68,231.05 C641.35,231.1 642.02,231.15 642.69,231.2 C643.36,231.24 644.03,231.29 644.7,231.33 C645.36,231.38 646.03,231.42 646.7,231.47 C647.37,231.51 648.04,231.56 648.71,231.6 C649.38,231.64 650.05,231.69 650.72,231.73 C651.39,231.77 652.06,231.81 652.73,231.85 C653.4,231.9 654.07,231.94 654.74,231.98 C655.41,232.02 656.08,232.06 656.75,232.09 C657.42,232.13 658.09,232.17 658.77,232.21 C659.44,232.24 660.11,232.28 660.78,232.32 C661.45,232.35 662.12,232.39 662.79,232.42 C663.47,232.45 664.14,232.49 664.81,232.52 C665.48,232.55 666.16,232.58 666.83,232.61 C667.5,232.64 668.17,232.67 668.85,232.7 C669.52,232.73 670.19,232.76 670.87,232.78 C671.54,232.81 672.22,232.84 672.89,232.86 C673.57,232.88 674.24,232.91 674.92,232.93 C675.59,232.95 676.27,232.97 676.94,232.99 C677.62,233.01 678.29,233.03 678.97,233.05 C679.65,233.07 680.66,233.09 681,233.1" fill="none" stroke="#0000ff" stroke-width="1.9" stroke-linejoin="round" />
<path d="M438,99.5 C438.36,99.51 439.46,99.55 440.16,99.55 C440.86,99.55 441.54,99.52 442.22,99.48 C442.89,99.43 443.54,99.36 444.19,99.27 C444.83,99.18 445.46,99.06 446.09,98.92 C446.71,98.77 447.32,98.61 447.92,98.41 C448.53,98.21 449.12,97.99 449.71,97.74 C450.31,97.49 450.89,97.21 451.48,96.91 C452.07,96.62 452.66,96.3 453.26,95.97 C453.87,95.64 454.47,95.3 455.1,94.95 C455.73,94.6 456.37,94.23 457.03,93.87 C457.69,93.51 458.37,93.13 459.06,92.78 C459.75,92.43 460.46,92.08 461.16,91.77 C461.85,91.47 462.56,91.17 463.25,90.94 C463.94,90.72 464.62,90.52 465.28,90.4 C465.93,90.28 466.58,90.21 467.18,90.23 C467.77,90.25 468.35,90.35 468.88,90.54 C469.4,90.74 469.89,91.04 470.34,91.4 C470.79,91.76 471.2,92.21 471.6,92.69 C472,93.17 472.37,93.72 472.73,94.26 C473.1,94.8 473.44,95.38 473.79,95.95 C474.14,96.52 474.48,97.09 474.82,97.66 C475.16,98.24 475.49,98.82 475.82,99.4 C476.15,99.98 476.48,100.56 476.8,101.15 C477.12,101.73 477.44,102.32 477.76,102.91 C478.07,103.5 478.39,104.09 478.7,104.69 C479,105.28 479.31,105.88 479.61,106.48 C479.92,107.08 480.22,107.68 480.52,108.28 C480.82,108.89 481.11,109.49 481.4,110.1 C481.7,110.7 481.99,111.31 482.28,111.92 C482.57,112.53 482.86,113.14 483.14,113.75 C483.43,114.36 483.72,114.98 484,115.59 C484.28,116.2 484.57,116.82 484.85,117.43 C485.13,118.05 485.41,118.66 485.69,119.28 C485.97,119.9 486.25,120.51 486.53,121.13 C486.81,121.75 487.09,122.36 487.37,122.98 C487.64,123.6 487.92,124.22 488.2,124.83 C488.48,125.45 488.76,126.07 489.04,126.69 C489.32,127.3 489.6,127.92 489.88,128.53 C490.17,129.15 490.45,129.77 490.73,130.38 C491.02,131 491.3,131.61 491.59,132.22 C491.88,132.84 492.16,133.45 492.45,134.06 C492.74,134.67 493.03,135.28 493.33,135.89 C493.62,136.5 493.92,137.1 494.22,137.71 C494.52,138.31 494.82,138.92 495.12,139.52 C495.43,140.12 495.73,140.72 496.04,141.32 C496.35,141.92 496.66,142.51 496.98,143.11 C497.3,143.7 497.62,144.29 497.94,144.88 C498.26,145.47 498.59,146.06 498.92,146.64 C499.25,147.23 499.58,147.81 499.92,148.39 C500.26,148.97 500.61,149.54 500.95,150.12 C501.3,150.69 501.65,151.26 502.01,151.83 C502.37,152.39 502.73,152.96 503.1,153.52 C503.47,154.08 503.84,154.63 504.21,155.19 C504.59,155.74 504.97,156.29 505.36,156.84 C505.74,157.39 506.13,157.93 506.53,158.47 C506.93,159.01 507.33,159.55 507.73,160.08 C508.13,160.62 508.54,161.15 508.96,161.68 C509.37,162.21 509.79,162.73 510.21,163.25 C510.63,163.77 511.05,164.29 511.48,164.81 C511.91,165.32 512.35,165.83 512.79,166.34 C513.22,166.85 513.67,167.36 514.11,167.86 C514.56,168.36 515.01,168.86 515.46,169.36 C515.92,169.85 516.37,170.34 516.84,170.83 C517.3,171.32 517.76,171.81 518.23,172.29 C518.7,172.78 519.17,173.26 519.65,173.73 C520.13,174.21 520.61,174.68 521.09,175.16 C521.57,175.63 522.06,176.09 522.55,176.56 C523.04,177.02 523.53,177.48 524.03,177.94 C524.53,178.4 525.03,178.85 525.53,179.31 C526.03,179.76 526.54,180.21 527.05,180.65 C527.56,181.1 528.07,181.54 528.58,181.98 C529.1,182.42 529.62,182.86 530.14,183.29 C530.66,183.72 531.19,184.15 531.71,184.58 C532.24,185.01 532.77,185.43 533.3,185.85 C533.83,186.27 534.37,186.69 534.91,187.1 C535.44,187.52 535.98,187.93 536.53,188.34 C537.07,188.75 537.62,189.15 538.16,189.56 C538.71,189.96 539.26,190.36 539.81,190.75 C540.37,191.15 540.92,191.54 541.48,191.93 C542.03,192.32 542.59,192.71 543.15,193.09 C543.71,193.48 544.28,193.86 544.84,194.24 C545.41,194.61 545.98,194.99 546.54,195.36 C547.11,195.73 547.68,196.1 548.26,196.47 C548.83,196.83 549.41,197.2 549.98,197.56 C550.56,197.92 551.14,198.27 551.72,198.63 C552.3,198.98 552.88,199.33 553.46,199.68 C554.04,200.03 554.63,200.37 555.21,200.71 C555.8,201.06 556.39,201.39 556.97,201.73 C557.56,202.07 558.15,202.4 558.74,202.73 C559.33,203.06 559.93,203.38 560.52,203.71 C561.11,204.03 561.71,204.35 562.3,204.67 C562.9,204.99 563.5,205.3 564.1,205.62 C564.69,205.93 565.29,206.24 565.89,206.54 C566.5,206.85 567.1,207.15 567.7,207.45 C568.3,207.76 568.91,208.05 569.51,208.35 C570.12,208.64 570.73,208.93 571.33,209.22 C571.94,209.51 572.55,209.8 573.16,210.08 C573.77,210.36 574.38,210.64 574.99,210.92 C575.6,211.2 576.22,211.47 576.83,211.75 C577.45,212.02 578.06,212.29 578.68,212.55 C579.3,212.82 579.91,213.08 580.53,213.34 C581.15,213.6 581.77,213.86 582.39,214.12 C583.01,214.37 583.63,214.62 584.26,214.87 C584.88,215.12 585.5,215.37 586.13,215.61 C586.75,215.86 587.38,216.1 588,216.34 C588.63,216.57 589.26,216.81 589.89,217.04 C590.51,217.28 591.14,217.51 591.77,217.73 C592.4,217.96 593.04,218.19 593.67,218.41 C594.3,218.63 594.93,218.85 595.57,219.07 C596.2,219.28 596.84,219.5 597.47,219.71 C598.11,219.92 598.75,220.13 599.38,220.33 C600.02,220.54 600.66,220.74 601.3,220.94 C601.94,221.14 602.58,221.34 603.22,221.54 C603.86,221.73 604.5,221.92 605.15,222.11 C605.79,222.3 606.43,222.49 607.08,222.68 C607.72,222.86 608.37,223.04 609.01,223.22 C609.66,223.4 610.3,223.58 610.95,223.75 C611.6,223.93 612.25,224.1 612.9,224.27 C613.55,224.44 614.2,224.61 614.85,224.77 C615.5,224.93 616.15,225.1 616.8,225.26 C617.45,225.41 618.1,225.57 618.76,225.73 C619.41,225.88 620.06,226.03 620.72,226.18 C621.37,226.33 622.03,226.48 622.69,226.62 C623.34,226.76 624,226.9 624.66,227.04 C625.31,227.18 625.97,227.32 626.63,227.45 C627.29,227.59 627.95,227.72 628.61,227.85 C629.27,227.98 629.93,228.1 630.59,228.23 C631.25,228.35 631.91,228.47 632.57,228.59 C633.23,228.71 633.9,228.83 634.56,228.95 C635.22,229.06 635.89,229.17 636.55,229.28 C637.22,229.39 637.88,229.5 638.55,229.6 C639.21,229.71 639.88,229.81 640.55,229.91 C641.21,230.01 641.88,230.11 642.55,230.21 C643.21,230.3 643.88,230.39 644.55,230.49 C645.22,230.58 645.89,230.66 646.56,230.75 C647.23,230.84 647.9,230.92 648.57,231 C649.24,231.08 649.91,231.16 650.58,231.24 C651.25,231.32 651.92,231.39 652.59,231.46 C653.26,231.54 653.94,231.61 654.61,231.67 C655.28,231.74 655.96,231.81 656.63,231.87 C657.3,231.93 657.98,232 658.65,232.05 C659.32,232.11 660,232.17 660.67,232.22 C661.35,232.28 662.02,232.33 662.7,232.38 C663.37,232.43 664.05,232.48 664.73,232.52 C665.4,232.57 666.08,232.61 666.76,232.65 C667.43,232.69 668.11,232.73 668.79,232.77 C669.46,232.81 670.14,232.84 670.82,232.87 C671.5,232.91 672.17,232.94 672.85,232.96 C673.53,232.99 674.21,233.02 674.89,233.04 C675.57,233.07 676.25,233.09 676.92,233.11 C677.6,233.13 678.28,233.14 678.96,233.16 C679.64,233.18 680.66,233.19 681,233.2" fill="none" stroke="#0000ff" stroke-width="1.9" stroke-linejoin="round" />
<path d="M414.2,10 C414.24,10.34 414.35,11.37 414.43,12.06 C414.51,12.75 414.59,13.43 414.67,14.11 C414.74,14.79 414.82,15.48 414.9,16.16 C414.98,16.84 415.06,17.51 415.14,18.19 C415.22,18.87 415.3,19.55 415.38,20.22 C415.46,20.9 415.55,21.57 415.63,22.24 C415.71,22.92 415.8,23.59 415.88,24.26 C415.97,24.93 416.05,25.6 416.14,26.27 C416.22,26.94 416.31,27.6 416.4,28.27 C416.49,28.94 416.58,29.6 416.67,30.27 C416.77,30.93 416.86,31.6 416.95,32.26 C417.05,32.92 417.14,33.59 417.24,34.25 C417.34,34.91 417.44,35.57 417.54,36.23 C417.64,36.89 417.74,37.55 417.85,38.21 C417.95,38.87 418.06,39.53 418.16,40.19 C418.27,40.85 418.38,41.51 418.49,42.16 C418.61,42.82 418.72,43.48 418.84,44.13 C418.95,44.79 419.07,45.44 419.19,46.1 C419.31,46.76 419.44,47.41 419.56,48.07 C419.69,48.72 419.81,49.37 419.94,50.03 C420.07,50.68 420.21,51.34 420.34,51.99 C420.48,52.65 420.62,53.3 420.76,53.95 C420.9,54.61 421.04,55.26 421.19,55.91 C421.34,56.57 421.48,57.22 421.64,57.87 C421.79,58.53 421.95,59.18 422.1,59.83 C422.26,60.49 422.42,61.14 422.59,61.79 C422.75,62.45 422.92,63.1 423.09,63.76 C423.27,64.41 423.44,65.06 423.62,65.72 C423.8,66.37 423.98,67.03 424.16,67.68 C424.35,68.34 424.54,68.99 424.73,69.65 C424.93,70.3 425.12,70.96 425.32,71.62 C425.52,72.27 425.73,72.93 425.94,73.59 C426.14,74.25 426.36,74.9 426.57,75.56 C426.79,76.22 427.01,76.88 427.23,77.54 C427.46,78.2 427.69,78.86 427.92,79.52 C428.15,80.18 428.39,80.84 428.64,81.5 C428.88,82.16 429.13,82.81 429.4,83.46 C429.66,84.11 429.94,84.75 430.22,85.39 C430.51,86.02 430.81,86.65 431.13,87.26 C431.45,87.87 431.78,88.47 432.13,89.06 C432.48,89.64 432.85,90.22 433.24,90.77 C433.63,91.32 434.05,91.86 434.48,92.37 C434.92,92.88 435.38,93.38 435.85,93.83 C436.33,94.29 436.83,94.73 437.35,95.12 C437.87,95.52 438.41,95.88 438.96,96.19 C439.51,96.51 440.09,96.79 440.68,97.01 C441.26,97.24 441.87,97.42 442.48,97.56 C443.09,97.69 443.71,97.78 444.33,97.83 C444.95,97.88 445.58,97.88 446.2,97.84 C446.82,97.8 447.44,97.71 448.05,97.59 C448.66,97.46 449.26,97.29 449.85,97.08 C450.44,96.87 451.02,96.62 451.58,96.34 C452.15,96.06 452.71,95.73 453.25,95.38 C453.8,95.04 454.34,94.65 454.87,94.25 C455.39,93.84 455.91,93.4 456.42,92.95 C456.93,92.49 457.44,92.01 457.93,91.51 C458.42,91.01 458.91,90.5 459.39,89.97 C459.87,89.44 460.34,88.89 460.81,88.34 C461.27,87.79 461.73,87.22 462.18,86.65 C462.63,86.08 463.08,85.5 463.52,84.93 C463.96,84.35 464.4,83.77 464.83,83.2 C465.26,82.62 465.69,82.05 466.11,81.48 C466.53,80.92 466.95,80.36 467.36,79.8 C467.77,79.24 468.18,78.69 468.59,78.13 C468.99,77.58 469.4,77.04 469.79,76.49 C470.19,75.94 470.59,75.4 470.98,74.86 C471.37,74.32 471.76,73.78 472.15,73.24 C472.53,72.7 472.92,72.17 473.3,71.63 C473.68,71.09 474.05,70.55 474.43,70.02 C474.81,69.48 475.18,68.94 475.55,68.4 C475.93,67.86 476.29,67.32 476.66,66.78 C477.03,66.23 477.4,65.69 477.76,65.14 C478.13,64.59 478.49,64.04 478.86,63.49 C479.22,62.94 479.58,62.38 479.94,61.83 C480.3,61.27 480.66,60.71 481.02,60.15 C481.38,59.59 481.73,59.02 482.09,58.46 C482.44,57.89 482.8,57.33 483.15,56.76 C483.5,56.19 483.85,55.62 484.2,55.04 C484.55,54.47 484.9,53.89 485.25,53.32 C485.6,52.74 485.94,52.16 486.29,51.58 C486.63,51 486.98,50.42 487.32,49.84 C487.66,49.25 488,48.67 488.34,48.08 C488.68,47.49 489.02,46.91 489.36,46.32 C489.7,45.73 490.03,45.14 490.37,44.55 C490.7,43.95 491.04,43.36 491.37,42.77 C491.7,42.17 492.03,41.58 492.36,40.98 C492.7,40.39 493.02,39.79 493.35,39.19 C493.68,38.59 494.01,37.99 494.33,37.39 C494.66,36.79 494.98,36.19 495.31,35.59 C495.63,34.99 495.95,34.39 496.28,33.78 C496.6,33.18 496.92,32.58 497.24,31.97 C497.56,31.37 497.88,30.76 498.19,30.16 C498.51,29.56 498.83,28.95 499.14,28.34 C499.46,27.74 499.77,27.13 500.08,26.53 C500.4,25.92 500.71,25.31 501.02,24.71 C501.33,24.1 501.64,23.49 501.95,22.89 C502.26,22.28 502.57,21.67 502.87,21.07 C503.18,20.46 503.49,19.85 503.79,19.25 C504.1,18.64 504.4,18.04 504.7,17.43 C505.01,16.82 505.31,16.22 505.61,15.61 C505.91,15.01 506.21,14.4 506.51,13.8 C506.81,13.2 507.11,12.59 507.4,11.99 C507.7,11.39 508,10.78 508.29,10.18 C508.59,9.58 508.88,8.98 509.18,8.38 C509.47,7.78 509.77,7.18 510.06,6.58 C510.35,5.98 510.64,5.38 510.93,4.79 C511.22,4.19 511.65,3.3 511.8,3" fill="none" stroke="#000000" stroke-width="3" stroke-linejoin="round" stroke-linecap="butt"/>
<line x1="420.96" y1="54.6" x2="425.56" y2="54.6" stroke="#000000" stroke-width="1.5" />
<line x1="480" y1="54.6" x2="484.6" y2="54.6" stroke="#000000" stroke-width="1.5" />
<line x1="422.77" y1="62.8" x2="427.37" y2="62.8" stroke="#000000" stroke-width="1.5" />
<line x1="474.41" y1="62.8" x2="479.01" y2="62.8" stroke="#000000" stroke-width="1.5" />
<line x1="424.96" y1="70.8" x2="429.56" y2="70.8" stroke="#000000" stroke-width="1.5" />
<line x1="469.11" y1="70.8" x2="473.71" y2="70.8" stroke="#000000" stroke-width="1.5" />
<line x1="427.66" y1="78.6" x2="432.26" y2="78.6" stroke="#000000" stroke-width="1.5" />
<line x1="463.75" y1="78.6" x2="468.35" y2="78.6" stroke="#000000" stroke-width="1.5" />
<line x1="431.38" y1="86.5" x2="435.98" y2="86.5" stroke="#000000" stroke-width="1.5" />
<line x1="457.4" y1="86.5" x2="462" y2="86.5" stroke="#000000" stroke-width="1.5" />
<line x1="442.3" y1="95.5" x2="449.4" y2="95.5" stroke="#000000" stroke-width="1.5" />
<path d="M428.6,85 C428.7,85.34 428.97,86.39 429.19,87.06 C429.41,87.73 429.64,88.39 429.9,89.04 C430.16,89.68 430.43,90.32 430.73,90.93 C431.03,91.55 431.34,92.15 431.68,92.73 C432.01,93.31 432.37,93.88 432.74,94.43 C433.11,94.98 433.5,95.51 433.91,96.02 C434.32,96.53 434.75,97.03 435.2,97.5 C435.64,97.97 436.11,98.42 436.59,98.85 C437.08,99.28 437.58,99.69 438.09,100.08 C438.61,100.47 439.15,100.83 439.7,101.18 C440.25,101.52 440.82,101.83 441.41,102.13 C442,102.42 442.6,102.69 443.22,102.93 C443.84,103.17 444.48,103.38 445.13,103.58 C445.77,103.78 446.44,103.95 447.09,104.13 C447.74,104.32 448.41,104.48 449.04,104.68 C449.68,104.88 450.32,105.08 450.91,105.32 C451.51,105.57 452.09,105.83 452.63,106.15 C453.17,106.48 453.67,106.85 454.13,107.26 C454.6,107.68 455.02,108.15 455.43,108.64 C455.83,109.13 456.2,109.66 456.57,110.2 C456.94,110.73 457.28,111.29 457.63,111.85 C457.97,112.41 458.3,112.98 458.63,113.54 C458.96,114.11 459.29,114.69 459.6,115.26 C459.92,115.84 460.23,116.42 460.54,117.01 C460.84,117.59 461.14,118.18 461.44,118.77 C461.73,119.37 462.02,119.96 462.31,120.56 C462.6,121.16 462.88,121.76 463.16,122.37 C463.44,122.97 463.71,123.58 463.98,124.19 C464.25,124.8 464.52,125.42 464.79,126.03 C465.06,126.65 465.32,127.27 465.58,127.88 C465.84,128.5 466.1,129.12 466.36,129.75 C466.62,130.37 466.88,130.99 467.13,131.62 C467.39,132.24 467.64,132.87 467.9,133.49 C468.16,134.12 468.41,134.75 468.67,135.38 C468.92,136 469.18,136.63 469.43,137.26 C469.69,137.89 469.95,138.51 470.21,139.14 C470.47,139.77 470.73,140.4 470.99,141.02 C471.25,141.65 471.52,142.27 471.78,142.9 C472.05,143.52 472.32,144.15 472.6,144.77 C472.87,145.39 473.14,146.01 473.43,146.63 C473.71,147.25 473.99,147.87 474.28,148.48 C474.56,149.1 474.86,149.71 475.15,150.32 C475.45,150.93 475.75,151.54 476.05,152.15 C476.35,152.76 476.66,153.36 476.97,153.96 C477.28,154.57 477.59,155.17 477.91,155.76 C478.23,156.36 478.55,156.96 478.88,157.55 C479.21,158.14 479.54,158.73 479.87,159.32 C480.21,159.91 480.55,160.49 480.89,161.08 C481.23,161.66 481.58,162.24 481.93,162.81 C482.28,163.39 482.63,163.96 482.99,164.53 C483.35,165.11 483.72,165.67 484.08,166.24 C484.45,166.8 484.82,167.36 485.2,167.92 C485.57,168.48 485.95,169.03 486.34,169.58 C486.72,170.13 487.11,170.68 487.5,171.22 C487.9,171.77 488.29,172.31 488.7,172.84 C489.1,173.38 489.5,173.91 489.91,174.44 C490.32,174.97 490.74,175.5 491.16,176.02 C491.58,176.54 492,177.06 492.43,177.57 C492.86,178.08 493.29,178.59 493.72,179.09 C494.16,179.6 494.6,180.1 495.05,180.6 C495.5,181.09 495.95,181.58 496.4,182.07 C496.86,182.56 497.32,183.04 497.78,183.52 C498.24,183.99 498.71,184.47 499.19,184.94 C499.66,185.4 500.14,185.87 500.62,186.33 C501.1,186.79 501.59,187.24 502.09,187.69 C502.58,188.14 503.08,188.58 503.58,189.01 C504.08,189.45 504.59,189.88 505.1,190.3 C505.62,190.72 506.14,191.13 506.66,191.53 C507.19,191.93 507.72,192.33 508.26,192.71 C508.8,193.09 509.35,193.46 509.9,193.82 C510.45,194.18 511.01,194.53 511.58,194.86 C512.15,195.19 512.72,195.52 513.31,195.82 C513.89,196.13 514.48,196.42 515.08,196.69 C515.68,196.97 516.28,197.23 516.9,197.47 C517.51,197.72 518.14,197.94 518.77,198.15 C519.4,198.36 520.05,198.55 520.7,198.72 C521.35,198.89 522.01,199.04 522.68,199.18 C523.34,199.31 524.02,199.43 524.69,199.53 C525.37,199.64 526.06,199.73 526.74,199.8 C527.43,199.88 528.12,199.94 528.81,199.99 C529.5,200.04 530.2,200.07 530.89,200.1 C531.58,200.13 532.27,200.14 532.96,200.15 C533.65,200.15 534.34,200.15 535.03,200.14 C535.71,200.13 536.4,200.11 537.08,200.08 C537.76,200.05 538.44,200.02 539.12,199.97 C539.79,199.93 540.47,199.88 541.14,199.82 C541.82,199.76 542.49,199.7 543.16,199.62 C543.83,199.55 544.49,199.47 545.16,199.39 C545.83,199.3 546.49,199.21 547.15,199.11 C547.82,199.01 548.48,198.91 549.14,198.8 C549.8,198.69 550.46,198.58 551.11,198.46 C551.77,198.34 552.42,198.21 553.08,198.08 C553.73,197.95 554.39,197.82 555.04,197.68 C555.69,197.54 556.34,197.4 556.99,197.25 C557.64,197.1 558.29,196.95 558.94,196.8 C559.59,196.64 560.24,196.48 560.88,196.32 C561.53,196.16 562.18,196 562.82,195.83 C563.47,195.66 564.11,195.49 564.76,195.32 C565.4,195.15 566.05,194.98 566.69,194.8 C567.33,194.62 567.98,194.45 568.62,194.27 C569.26,194.09 569.91,193.91 570.55,193.73 C571.19,193.55 571.84,193.36 572.48,193.18 C573.12,193 573.77,192.82 574.41,192.63 C575.05,192.45 575.7,192.26 576.34,192.08 C576.98,191.9 577.63,191.71 578.27,191.53 C578.92,191.35 579.56,191.16 580.2,190.98 C580.85,190.8 581.49,190.61 582.14,190.43 C582.78,190.25 583.43,190.07 584.07,189.88 C584.72,189.7 585.37,189.52 586.01,189.34 C586.66,189.16 587.3,188.97 587.95,188.79 C588.6,188.61 589.24,188.43 589.89,188.25 C590.54,188.07 591.18,187.89 591.83,187.71 C592.48,187.53 593.13,187.36 593.77,187.18 C594.42,187 595.07,186.82 595.72,186.65 C596.37,186.47 597.01,186.29 597.66,186.12 C598.31,185.94 598.96,185.77 599.61,185.6 C600.26,185.42 600.91,185.25 601.56,185.08 C602.21,184.91 602.86,184.74 603.51,184.57 C604.16,184.4 604.81,184.23 605.46,184.06 C606.11,183.89 606.76,183.73 607.42,183.56 C608.07,183.4 608.72,183.23 609.37,183.07 C610.02,182.9 610.67,182.74 611.33,182.58 C611.98,182.42 612.63,182.26 613.29,182.1 C613.94,181.94 614.59,181.79 615.25,181.63 C615.9,181.47 616.55,181.32 617.21,181.17 C617.86,181.01 618.52,180.86 619.17,180.71 C619.83,180.56 620.48,180.41 621.14,180.27 C621.79,180.12 622.45,179.98 623.1,179.83 C623.76,179.69 624.42,179.55 625.07,179.41 C625.73,179.27 626.39,179.13 627.04,178.99 C627.7,178.85 628.36,178.72 629.02,178.58 C629.67,178.45 630.33,178.32 630.99,178.19 C631.65,178.06 632.31,177.93 632.97,177.81 C633.63,177.68 634.29,177.56 634.95,177.44 C635.61,177.32 636.27,177.2 636.93,177.08 C637.59,176.96 638.25,176.85 638.91,176.73 C639.57,176.62 640.23,176.51 640.89,176.4 C641.55,176.29 642.22,176.18 642.88,176.08 C643.54,175.98 644.2,175.87 644.87,175.77 C645.53,175.68 646.19,175.58 646.86,175.48 C647.52,175.39 648.19,175.3 648.85,175.21 C649.51,175.12 650.18,175.03 650.84,174.95 C651.51,174.86 652.17,174.78 652.84,174.7 C653.51,174.62 654.17,174.54 654.84,174.47 C655.51,174.4 656.17,174.32 656.84,174.26 C657.51,174.19 658.18,174.12 658.84,174.06 C659.51,174 660.18,173.94 660.85,173.88 C661.52,173.82 662.19,173.77 662.86,173.72 C663.53,173.67 664.2,173.62 664.87,173.57 C665.54,173.53 666.21,173.49 666.88,173.45 C667.55,173.41 668.22,173.37 668.89,173.34 C669.56,173.31 670.24,173.28 670.91,173.25 C671.58,173.23 672.26,173.2 672.93,173.18 C673.6,173.16 674.28,173.15 674.95,173.14 C675.62,173.12 676.3,173.11 676.97,173.11 C677.65,173.1 678.66,173.1 679,173.1" fill="none" stroke="#008000" stroke-width="1.9" stroke-linejoin="round" />
<path d="M414,-2.03 C414.03,-1.7 414.14,-0.71 414.21,-0.05 C414.28,0.6 414.35,1.26 414.42,1.92 C414.49,2.59 414.56,3.25 414.62,3.91 C414.69,4.57 414.76,5.24 414.82,5.9 C414.89,6.57 414.95,7.23 415.02,7.9 C415.08,8.56 415.15,9.23 415.21,9.9 C415.28,10.56 415.34,11.23 415.41,11.9 C415.47,12.57 415.54,13.24 415.6,13.91 C415.67,14.58 415.73,15.25 415.8,15.92 C415.87,16.59 415.93,17.26 416,17.93 C416.07,18.6 416.13,19.27 416.2,19.94 C416.27,20.62 416.34,21.29 416.41,21.96 C416.48,22.63 416.55,23.3 416.63,23.98 C416.7,24.65 416.77,25.32 416.85,25.99 C416.92,26.66 417,27.34 417.08,28.01 C417.15,28.68 417.23,29.35 417.31,30.03 C417.39,30.7 417.48,31.37 417.56,32.04 C417.65,32.71 417.73,33.38 417.82,34.05 C417.91,34.72 418,35.39 418.09,36.06 C418.19,36.74 418.28,37.4 418.38,38.07 C418.48,38.74 418.58,39.41 418.68,40.08 C418.78,40.75 418.89,41.42 418.99,42.08 C419.1,42.75 419.21,43.42 419.33,44.08 C419.44,44.75 419.56,45.41 419.68,46.07 C419.8,46.74 419.92,47.4 420.04,48.06 C420.17,48.73 420.3,49.39 420.43,50.05 C420.56,50.71 420.7,51.37 420.84,52.02 C420.98,52.68 421.12,53.34 421.27,54 C421.42,54.65 421.57,55.31 421.73,55.96 C421.88,56.61 422.04,57.27 422.2,57.92 C422.37,58.57 422.53,59.22 422.71,59.87 C422.88,60.52 423.05,61.16 423.24,61.81 C423.42,62.45 423.6,63.1 423.79,63.74 C423.98,64.38 424.18,65.02 424.38,65.66 C424.58,66.3 424.78,66.94 424.99,67.58 C425.2,68.21 425.41,68.85 425.63,69.48 C425.85,70.11 426.08,70.74 426.3,71.37 C426.53,72 426.77,72.63 427,73.25 C427.24,73.88 427.49,74.5 427.73,75.12 C427.98,75.74 428.23,76.36 428.49,76.98 C428.75,77.59 429.01,78.21 429.28,78.82 C429.55,79.43 429.82,80.04 430.09,80.65 C430.37,81.26 430.65,81.87 430.94,82.47 C431.23,83.07 431.52,83.68 431.81,84.27 C432.11,84.87 432.41,85.47 432.71,86.06 C433.02,86.66 433.33,87.25 433.64,87.84 C433.95,88.43 434.26,89.02 434.57,89.61 C434.88,90.2 435.2,90.79 435.51,91.38 C435.82,91.97 436.13,92.56 436.43,93.15 C436.74,93.75 437.04,94.34 437.34,94.93 C437.64,95.53 437.93,96.12 438.22,96.72 C438.51,97.32 438.79,97.92 439.06,98.53 C439.33,99.13 439.59,99.74 439.85,100.35 C440.1,100.96 440.35,101.57 440.59,102.19 C440.83,102.81 441.06,103.43 441.29,104.05 C441.51,104.67 441.73,105.3 441.94,105.93 C442.15,106.56 442.36,107.19 442.55,107.82 C442.75,108.46 442.94,109.09 443.13,109.73 C443.32,110.37 443.5,111.01 443.67,111.66 C443.84,112.3 444.01,112.94 444.18,113.59 C444.34,114.24 444.5,114.89 444.65,115.54 C444.81,116.19 444.95,116.84 445.1,117.5 C445.24,118.15 445.38,118.81 445.52,119.47 C445.66,120.13 445.79,120.79 445.92,121.45 C446.05,122.11 446.17,122.77 446.3,123.44 C446.42,124.1 446.54,124.76 446.66,125.43 C446.77,126.1 446.89,126.76 447,127.43 C447.11,128.1 447.22,128.77 447.33,129.44 C447.44,130.1 447.54,130.77 447.65,131.45 C447.75,132.12 447.85,132.79 447.95,133.46 C448.06,134.13 448.16,134.8 448.26,135.47 C448.36,136.14 448.46,136.82 448.56,137.49 C448.66,138.16 448.76,138.83 448.86,139.51 C448.96,140.18 449.06,140.85 449.16,141.52 C449.26,142.19 449.36,142.86 449.46,143.53 C449.56,144.21 449.66,144.88 449.77,145.55 C449.87,146.22 449.98,146.88 450.09,147.55 C450.19,148.22 450.3,148.89 450.41,149.56 C450.53,150.22 450.64,150.89 450.76,151.55 C450.87,152.22 450.99,152.88 451.11,153.54 C451.24,154.2 451.36,154.86 451.49,155.52 C451.62,156.18 451.75,156.84 451.88,157.5 C452.02,158.15 452.16,158.81 452.3,159.47 C452.44,160.12 452.58,160.77 452.72,161.43 C452.87,162.08 453.02,162.73 453.17,163.38 C453.32,164.03 453.47,164.68 453.63,165.33 C453.79,165.98 453.95,166.63 454.11,167.27 C454.27,167.92 454.43,168.56 454.6,169.21 C454.76,169.86 454.93,170.5 455.1,171.14 C455.28,171.79 455.45,172.43 455.62,173.07 C455.8,173.71 455.98,174.36 456.16,175 C456.34,175.64 456.52,176.28 456.71,176.92 C456.89,177.56 457.08,178.2 457.27,178.84 C457.45,179.48 457.64,180.12 457.84,180.75 C458.03,181.39 458.22,182.03 458.42,182.67 C458.62,183.31 458.82,183.94 459.02,184.58 C459.22,185.22 459.42,185.85 459.62,186.49 C459.82,187.13 460.03,187.76 460.24,188.4 C460.44,189.04 460.65,189.67 460.86,190.31 C461.07,190.94 461.28,191.58 461.5,192.22 C461.71,192.85 461.92,193.49 462.14,194.13 C462.36,194.76 462.57,195.4 462.79,196.03 C463.01,196.67 463.23,197.31 463.45,197.94 C463.67,198.58 463.9,199.22 464.12,199.86 C464.34,200.49 464.57,201.13 464.79,201.77 C465.02,202.41 465.24,203.05 465.47,203.68 C465.7,204.32 465.93,204.96 466.16,205.6 C466.39,206.24 466.62,206.88 466.85,207.52 C467.08,208.16 467.32,208.8 467.55,209.44 C467.79,210.08 468.02,210.72 468.26,211.36 C468.5,212 468.74,212.64 468.99,213.27 C469.23,213.91 469.48,214.55 469.73,215.18 C469.98,215.82 470.23,216.45 470.48,217.08 C470.74,217.71 471,218.34 471.26,218.97 C471.52,219.6 471.79,220.22 472.06,220.85 C472.33,221.47 472.6,222.09 472.88,222.71 C473.16,223.33 473.44,223.94 473.73,224.55 C474.01,225.17 474.31,225.78 474.6,226.38 C474.9,226.99 475.2,227.59 475.51,228.19 C475.82,228.78 476.13,229.38 476.45,229.97 C476.77,230.56 477.09,231.14 477.43,231.72 C477.76,232.3 478.09,232.88 478.44,233.45 C478.78,234.02 479.13,234.59 479.49,235.15 C479.85,235.71 480.21,236.27 480.59,236.82 C480.96,237.37 481.34,237.92 481.72,238.45 C482.11,238.99 482.51,239.53 482.91,240.05 C483.31,240.58 483.72,241.1 484.14,241.61 C484.56,242.13 484.99,242.63 485.43,243.13 C485.86,243.63 486.31,244.13 486.76,244.61 C487.22,245.1 487.68,245.57 488.16,246.04 C488.63,246.51 489.11,246.98 489.61,247.43 C490.1,247.89 490.6,248.33 491.11,248.77 C491.63,249.21 492.15,249.64 492.68,250.06 C493.22,250.48 493.76,250.89 494.31,251.29 C494.86,251.68 495.42,252.07 495.99,252.45 C496.55,252.83 497.13,253.19 497.71,253.55 C498.29,253.9 498.89,254.24 499.48,254.56 C500.08,254.89 500.68,255.2 501.29,255.5 C501.9,255.8 502.51,256.08 503.13,256.35 C503.75,256.61 504.37,256.87 505,257.1 C505.63,257.33 506.26,257.55 506.9,257.75 C507.53,257.95 508.18,258.14 508.82,258.3 C509.46,258.46 510.11,258.61 510.75,258.73 C511.4,258.86 512.05,258.96 512.71,259.05 C513.36,259.15 514.01,259.22 514.67,259.28 C515.33,259.33 515.98,259.37 516.64,259.4 C517.3,259.43 517.97,259.44 518.63,259.44 C519.29,259.44 519.96,259.42 520.62,259.39 C521.28,259.37 521.95,259.33 522.62,259.27 C523.28,259.22 523.95,259.16 524.62,259.09 C525.28,259.02 525.95,258.93 526.62,258.84 C527.29,258.75 527.95,258.65 528.62,258.54 C529.29,258.43 529.95,258.32 530.62,258.2 C531.28,258.07 531.95,257.94 532.61,257.81 C533.28,257.68 533.94,257.54 534.6,257.39 C535.27,257.25 535.93,257.1 536.59,256.95 C537.25,256.8 537.9,256.65 538.56,256.49 C539.22,256.33 539.87,256.17 540.53,256 C541.18,255.83 541.84,255.66 542.49,255.49 C543.14,255.32 543.8,255.14 544.45,254.97 C545.1,254.79 545.75,254.61 546.4,254.42 C547.05,254.24 547.69,254.05 548.34,253.86 C548.99,253.67 549.64,253.48 550.28,253.29 C550.93,253.1 551.57,252.9 552.22,252.7 C552.86,252.51 553.51,252.31 554.15,252.11 C554.79,251.91 555.44,251.71 556.08,251.5 C556.72,251.3 557.36,251.09 558,250.89 C558.65,250.68 559.29,250.48 559.93,250.27 C560.57,250.06 561.21,249.85 561.85,249.65 C562.49,249.44 563.13,249.23 563.77,249.02 C564.41,248.81 565.05,248.6 565.69,248.39 C566.33,248.18 566.97,247.97 567.61,247.76 C568.24,247.55 568.88,247.34 569.52,247.13 C570.16,246.92 570.8,246.72 571.44,246.51 C572.08,246.3 572.72,246.09 573.36,245.89 C574,245.68 574.64,245.48 575.28,245.28 C575.92,245.07 576.56,244.87 577.2,244.67 C577.84,244.47 578.48,244.27 579.12,244.07 C579.76,243.88 580.4,243.68 581.04,243.49 C581.69,243.3 582.33,243.11 582.97,242.92 C583.61,242.73 584.26,242.54 584.9,242.36 C585.55,242.17 586.19,241.99 586.84,241.82 C587.48,241.64 588.13,241.46 588.77,241.29 C589.42,241.12 590.07,240.95 590.72,240.78 C591.36,240.62 592.01,240.45 592.66,240.3 C593.31,240.14 593.96,239.98 594.62,239.83 C595.27,239.68 595.92,239.53 596.57,239.39 C597.23,239.25 597.88,239.11 598.54,238.97 C599.19,238.84 599.85,238.7 600.51,238.58 C601.16,238.45 601.82,238.32 602.48,238.2 C603.14,238.08 603.8,237.97 604.46,237.85 C605.12,237.74 605.78,237.63 606.45,237.52 C607.11,237.42 607.77,237.31 608.44,237.22 C609.1,237.12 609.76,237.02 610.43,236.93 C611.1,236.83 611.76,236.74 612.43,236.65 C613.09,236.57 613.76,236.48 614.43,236.4 C615.1,236.32 615.77,236.24 616.44,236.17 C617.1,236.09 617.77,236.02 618.44,235.95 C619.11,235.88 619.78,235.81 620.46,235.74 C621.13,235.68 621.8,235.62 622.47,235.56 C623.14,235.5 623.81,235.44 624.49,235.38 C625.16,235.33 625.83,235.27 626.51,235.22 C627.18,235.17 627.85,235.12 628.53,235.07 C629.2,235.03 629.88,234.98 630.55,234.94 C631.23,234.9 631.9,234.85 632.58,234.81 C633.25,234.77 633.93,234.74 634.6,234.7 C635.28,234.66 635.96,234.63 636.63,234.6 C637.31,234.56 637.98,234.53 638.66,234.5 C639.34,234.47 640.01,234.44 640.69,234.42 C641.36,234.39 642.04,234.36 642.72,234.34 C643.39,234.31 644.07,234.29 644.75,234.27 C645.42,234.24 646.1,234.22 646.78,234.2 C647.45,234.18 648.13,234.16 648.8,234.14 C649.48,234.12 650.16,234.1 650.83,234.08 C651.51,234.07 652.18,234.05 652.86,234.03 C653.53,234.02 654.21,234 654.88,233.98 C655.56,233.97 656.23,233.95 656.91,233.94 C657.58,233.92 658.26,233.91 658.93,233.89 C659.6,233.88 660.28,233.86 660.95,233.85 C661.62,233.83 662.3,233.82 662.97,233.81 C663.64,233.79 664.31,233.78 664.99,233.76 C665.66,233.75 666.33,233.73 667,233.72 C667.67,233.7 668.34,233.69 669.01,233.67 C669.68,233.65 670.35,233.64 671.02,233.62 C671.68,233.6 672.35,233.58 673.02,233.56 C673.69,233.55 674.35,233.53 675.02,233.51 C675.68,233.49 676.35,233.47 677.01,233.44 C677.68,233.42 678.34,233.4 679.01,233.37 C679.67,233.35 680.66,233.31 680.99,233.3" fill="none" stroke="#0000ff" stroke-width="1.9" stroke-linejoin="round" />
<path d="M412.4,-1.97 C412.43,-1.64 412.52,-0.65 412.59,0.01 C412.65,0.67 412.71,1.34 412.77,2 C412.84,2.66 412.9,3.33 412.96,3.99 C413.02,4.66 413.08,5.32 413.15,5.99 C413.21,6.65 413.27,7.32 413.33,7.98 C413.4,8.65 413.46,9.32 413.52,9.98 C413.59,10.65 413.65,11.32 413.72,11.99 C413.78,12.65 413.85,13.32 413.91,13.99 C413.98,14.66 414.05,15.33 414.11,16 C414.18,16.67 414.25,17.34 414.32,18.01 C414.39,18.67 414.46,19.34 414.53,20.01 C414.6,20.68 414.68,21.35 414.75,22.02 C414.82,22.69 414.9,23.36 414.98,24.03 C415.05,24.7 415.13,25.37 415.21,26.04 C415.29,26.71 415.37,27.38 415.45,28.05 C415.53,28.72 415.62,29.39 415.7,30.06 C415.79,30.73 415.88,31.4 415.96,32.07 C416.05,32.73 416.14,33.4 416.24,34.07 C416.33,34.74 416.42,35.41 416.52,36.08 C416.62,36.74 416.72,37.41 416.82,38.08 C416.92,38.74 417.02,39.41 417.13,40.08 C417.24,40.74 417.34,41.41 417.45,42.07 C417.57,42.74 417.68,43.4 417.79,44.06 C417.91,44.73 418.03,45.39 418.15,46.05 C418.27,46.72 418.39,47.38 418.52,48.04 C418.65,48.7 418.78,49.36 418.91,50.02 C419.04,50.68 419.18,51.34 419.31,51.99 C419.45,52.65 419.59,53.31 419.74,53.97 C419.88,54.62 420.03,55.28 420.18,55.93 C420.33,56.59 420.49,57.24 420.65,57.89 C420.81,58.54 420.97,59.2 421.13,59.85 C421.3,60.5 421.47,61.15 421.64,61.79 C421.81,62.44 421.99,63.09 422.17,63.73 C422.35,64.38 422.53,65.02 422.72,65.67 C422.91,66.31 423.1,66.95 423.29,67.59 C423.49,68.23 423.69,68.87 423.9,69.51 C424.1,70.15 424.31,70.78 424.53,71.42 C424.74,72.05 424.96,72.68 425.19,73.31 C425.41,73.94 425.64,74.57 425.88,75.2 C426.11,75.82 426.35,76.45 426.6,77.07 C426.85,77.69 427.1,78.3 427.36,78.92 C427.62,79.54 427.88,80.15 428.16,80.76 C428.43,81.37 428.71,81.98 428.99,82.58 C429.28,83.18 429.57,83.79 429.87,84.38 C430.17,84.98 430.47,85.58 430.79,86.17 C431.1,86.76 431.42,87.35 431.75,87.93 C432.07,88.52 432.4,89.1 432.73,89.68 C433.06,90.27 433.4,90.85 433.73,91.43 C434.06,92.01 434.4,92.59 434.73,93.17 C435.06,93.75 435.39,94.33 435.72,94.91 C436.05,95.5 436.37,96.08 436.68,96.67 C437,97.25 437.31,97.84 437.61,98.43 C437.91,99.02 438.2,99.62 438.48,100.22 C438.76,100.82 439.04,101.42 439.3,102.03 C439.56,102.63 439.82,103.24 440.06,103.85 C440.31,104.47 440.55,105.08 440.78,105.7 C441.01,106.32 441.23,106.94 441.44,107.57 C441.66,108.19 441.87,108.82 442.07,109.45 C442.27,110.08 442.46,110.71 442.65,111.35 C442.83,111.98 443.01,112.62 443.19,113.26 C443.36,113.9 443.53,114.54 443.69,115.19 C443.85,115.83 444.01,116.48 444.16,117.13 C444.32,117.78 444.46,118.43 444.6,119.08 C444.75,119.73 444.88,120.39 445.02,121.05 C445.15,121.7 445.28,122.36 445.4,123.02 C445.53,123.68 445.65,124.34 445.77,125 C445.89,125.66 446,126.33 446.11,126.99 C446.22,127.66 446.33,128.32 446.44,128.99 C446.55,129.66 446.65,130.32 446.75,130.99 C446.86,131.66 446.96,132.33 447.06,133 C447.16,133.67 447.25,134.34 447.35,135.01 C447.45,135.68 447.55,136.35 447.64,137.03 C447.74,137.7 447.83,138.37 447.93,139.04 C448.02,139.71 448.12,140.39 448.21,141.06 C448.31,141.73 448.4,142.4 448.5,143.07 C448.6,143.75 448.7,144.42 448.8,145.09 C448.89,145.76 449,146.43 449.1,147.1 C449.2,147.77 449.3,148.44 449.41,149.11 C449.52,149.78 449.63,150.44 449.74,151.11 C449.85,151.78 449.97,152.44 450.08,153.11 C450.2,153.77 450.32,154.44 450.45,155.1 C450.57,155.76 450.7,156.42 450.83,157.08 C450.96,157.74 451.1,158.4 451.23,159.06 C451.37,159.72 451.51,160.38 451.65,161.03 C451.8,161.69 451.94,162.34 452.09,163 C452.24,163.65 452.4,164.31 452.55,164.96 C452.71,165.61 452.86,166.26 453.02,166.91 C453.19,167.56 453.35,168.21 453.51,168.86 C453.68,169.51 453.85,170.16 454.02,170.8 C454.19,171.45 454.37,172.1 454.54,172.74 C454.72,173.39 454.9,174.03 455.08,174.68 C455.26,175.32 455.44,175.97 455.63,176.61 C455.81,177.25 456,177.89 456.19,178.53 C456.38,179.18 456.57,179.82 456.76,180.46 C456.96,181.1 457.15,181.74 457.35,182.38 C457.55,183.02 457.75,183.65 457.95,184.29 C458.15,184.93 458.35,185.57 458.56,186.21 C458.76,186.84 458.97,187.48 459.17,188.12 C459.38,188.75 459.59,189.39 459.8,190.03 C460.01,190.66 460.23,191.3 460.44,191.93 C460.65,192.57 460.87,193.2 461.09,193.84 C461.3,194.47 461.52,195.11 461.74,195.74 C461.96,196.38 462.18,197.01 462.4,197.64 C462.62,198.28 462.84,198.91 463.07,199.55 C463.29,200.18 463.51,200.81 463.74,201.45 C463.96,202.08 464.19,202.71 464.41,203.35 C464.64,203.98 464.87,204.61 465.1,205.25 C465.32,205.88 465.55,206.51 465.78,207.15 C466.01,207.78 466.24,208.42 466.47,209.05 C466.71,209.68 466.94,210.31 467.17,210.95 C467.41,211.58 467.64,212.21 467.88,212.84 C468.12,213.47 468.36,214.1 468.6,214.73 C468.84,215.36 469.08,215.99 469.33,216.62 C469.57,217.25 469.82,217.87 470.07,218.5 C470.32,219.12 470.57,219.75 470.83,220.37 C471.08,220.99 471.34,221.61 471.6,222.23 C471.86,222.85 472.13,223.47 472.39,224.09 C472.66,224.7 472.93,225.32 473.21,225.93 C473.48,226.55 473.76,227.16 474.04,227.77 C474.32,228.37 474.61,228.98 474.9,229.59 C475.19,230.19 475.48,230.79 475.78,231.39 C476.08,231.99 476.38,232.59 476.69,233.18 C477,233.78 477.31,234.37 477.63,234.96 C477.94,235.55 478.27,236.13 478.6,236.71 C478.93,237.3 479.26,237.87 479.6,238.45 C479.94,239.02 480.29,239.59 480.65,240.15 C481.01,240.72 481.37,241.27 481.74,241.83 C482.12,242.38 482.5,242.92 482.89,243.46 C483.28,244 483.68,244.54 484.09,245.06 C484.5,245.59 484.92,246.1 485.35,246.61 C485.78,247.12 486.22,247.62 486.67,248.12 C487.12,248.61 487.59,249.09 488.06,249.57 C488.54,250.04 489.03,250.51 489.53,250.96 C490.03,251.42 490.55,251.86 491.07,252.3 C491.6,252.73 492.13,253.15 492.68,253.56 C493.23,253.97 493.79,254.37 494.35,254.76 C494.92,255.14 495.5,255.52 496.08,255.88 C496.67,256.24 497.26,256.59 497.86,256.92 C498.46,257.25 499.07,257.57 499.68,257.87 C500.3,258.18 500.92,258.47 501.54,258.74 C502.17,259.01 502.8,259.27 503.44,259.51 C504.07,259.75 504.71,259.97 505.35,260.18 C505.99,260.38 506.64,260.57 507.29,260.74 C507.94,260.92 508.59,261.07 509.24,261.2 C509.89,261.34 510.54,261.45 511.19,261.55 C511.85,261.65 512.5,261.73 513.16,261.79 C513.81,261.86 514.47,261.91 515.13,261.94 C515.79,261.97 516.44,261.99 517.1,261.99 C517.76,262 518.42,261.99 519.08,261.97 C519.74,261.94 520.4,261.91 521.06,261.86 C521.72,261.81 522.38,261.76 523.04,261.69 C523.7,261.62 524.37,261.54 525.03,261.45 C525.69,261.36 526.35,261.26 527.01,261.15 C527.67,261.05 528.33,260.93 528.99,260.81 C529.65,260.69 530.31,260.56 530.97,260.42 C531.62,260.29 532.28,260.15 532.94,260 C533.6,259.86 534.25,259.7 534.91,259.55 C535.56,259.4 536.22,259.24 536.87,259.08 C537.53,258.91 538.18,258.75 538.83,258.58 C539.48,258.41 540.13,258.24 540.78,258.07 C541.43,257.89 542.08,257.72 542.73,257.54 C543.38,257.36 544.03,257.18 544.67,256.99 C545.32,256.81 545.97,256.62 546.61,256.43 C547.26,256.24 547.9,256.05 548.55,255.86 C549.19,255.66 549.84,255.47 550.48,255.27 C551.12,255.07 551.76,254.87 552.41,254.67 C553.05,254.47 553.69,254.27 554.33,254.07 C554.97,253.87 555.61,253.66 556.26,253.46 C556.9,253.25 557.54,253.04 558.18,252.84 C558.82,252.63 559.46,252.42 560.1,252.21 C560.74,252.01 561.37,251.8 562.01,251.59 C562.65,251.38 563.29,251.17 563.93,250.96 C564.57,250.75 565.21,250.54 565.85,250.33 C566.49,250.12 567.13,249.91 567.76,249.7 C568.4,249.49 569.04,249.28 569.68,249.07 C570.32,248.87 570.96,248.66 571.6,248.45 C572.24,248.24 572.88,248.04 573.52,247.83 C574.16,247.63 574.8,247.42 575.44,247.22 C576.08,247.02 576.72,246.82 577.36,246.62 C578,246.42 578.64,246.22 579.28,246.03 C579.92,245.83 580.56,245.63 581.2,245.44 C581.85,245.25 582.49,245.06 583.13,244.87 C583.78,244.68 584.42,244.5 585.06,244.31 C585.71,244.13 586.35,243.95 587,243.77 C587.64,243.59 588.29,243.42 588.94,243.24 C589.58,243.07 590.23,242.9 590.88,242.74 C591.53,242.57 592.18,242.41 592.83,242.25 C593.48,242.09 594.13,241.93 594.78,241.78 C595.43,241.62 596.08,241.48 596.74,241.33 C597.39,241.18 598.04,241.04 598.7,240.91 C599.35,240.77 600.01,240.63 600.67,240.5 C601.32,240.37 601.98,240.24 602.64,240.12 C603.3,240 603.96,239.88 604.62,239.76 C605.28,239.64 605.94,239.53 606.6,239.42 C607.26,239.31 607.92,239.2 608.58,239.1 C609.25,238.99 609.91,238.89 610.58,238.79 C611.24,238.7 611.9,238.6 612.57,238.51 C613.24,238.42 613.9,238.33 614.57,238.24 C615.23,238.15 615.9,238.07 616.57,237.99 C617.24,237.9 617.9,237.82 618.57,237.75 C619.24,237.67 619.91,237.6 620.58,237.53 C621.25,237.45 621.92,237.38 622.59,237.32 C623.26,237.25 623.93,237.18 624.6,237.12 C625.27,237.06 625.95,237 626.62,236.94 C627.29,236.88 627.96,236.82 628.63,236.77 C629.31,236.71 629.98,236.66 630.65,236.61 C631.33,236.56 632,236.51 632.67,236.46 C633.35,236.41 634.02,236.36 634.69,236.32 C635.37,236.27 636.04,236.23 636.72,236.19 C637.39,236.14 638.07,236.1 638.74,236.06 C639.41,236.02 640.09,235.99 640.76,235.95 C641.44,235.91 642.11,235.88 642.79,235.84 C643.46,235.8 644.14,235.77 644.81,235.74 C645.49,235.7 646.16,235.67 646.84,235.64 C647.51,235.61 648.19,235.58 648.86,235.55 C649.53,235.52 650.21,235.49 650.88,235.46 C651.56,235.43 652.23,235.4 652.91,235.37 C653.58,235.35 654.25,235.32 654.93,235.29 C655.6,235.26 656.27,235.24 656.95,235.21 C657.62,235.18 658.29,235.15 658.97,235.13 C659.64,235.1 660.31,235.07 660.98,235.05 C661.66,235.02 662.33,234.99 663,234.97 C663.67,234.94 664.34,234.91 665.01,234.89 C665.68,234.86 666.35,234.83 667.02,234.8 C667.69,234.77 668.36,234.74 669.03,234.71 C669.7,234.69 670.37,234.66 671.03,234.62 C671.7,234.59 672.37,234.56 673.04,234.53 C673.7,234.5 674.37,234.47 675.03,234.43 C675.7,234.4 676.36,234.36 677.03,234.33 C677.69,234.29 678.36,234.26 679.02,234.22 C679.68,234.18 680.68,234.12 681.01,234.1" fill="none" stroke="#0000ff" stroke-width="1.9" stroke-linejoin="round" />
<path d="M544,256.1 C544.32,255.98 545.28,255.6 545.93,255.36 C546.57,255.11 547.21,254.87 547.86,254.63 C548.5,254.39 549.14,254.15 549.79,253.91 C550.43,253.67 551.08,253.44 551.73,253.21 C552.37,252.98 553.02,252.75 553.67,252.52 C554.32,252.29 554.96,252.07 555.61,251.85 C556.26,251.62 556.91,251.4 557.56,251.19 C558.21,250.97 558.86,250.75 559.51,250.54 C560.17,250.33 560.82,250.12 561.47,249.91 C562.12,249.7 562.78,249.49 563.43,249.29 C564.08,249.09 564.74,248.88 565.39,248.68 C566.05,248.48 566.7,248.29 567.36,248.09 C568.02,247.9 568.67,247.7 569.33,247.51 C569.99,247.32 570.65,247.14 571.3,246.95 C571.96,246.76 572.62,246.58 573.28,246.4 C573.94,246.22 574.6,246.04 575.26,245.86 C575.92,245.68 576.58,245.51 577.24,245.33 C577.91,245.16 578.57,244.99 579.23,244.82 C579.89,244.65 580.55,244.49 581.22,244.32 C581.88,244.16 582.55,243.99 583.21,243.83 C583.87,243.67 584.54,243.52 585.2,243.36 C585.87,243.2 586.54,243.05 587.2,242.9 C587.87,242.75 588.54,242.6 589.2,242.45 C589.87,242.3 590.54,242.15 591.21,242.01 C591.87,241.87 592.54,241.73 593.21,241.59 C593.88,241.45 594.55,241.31 595.22,241.17 C595.89,241.04 596.56,240.9 597.23,240.77 C597.9,240.64 598.57,240.51 599.24,240.38 C599.91,240.26 600.59,240.13 601.26,240.01 C601.93,239.89 602.6,239.76 603.28,239.64 C603.95,239.52 604.62,239.41 605.29,239.29 C605.97,239.18 606.64,239.06 607.32,238.95 C607.99,238.84 608.67,238.73 609.34,238.62 C610.02,238.51 610.69,238.41 611.37,238.3 C612.04,238.2 612.72,238.1 613.39,238 C614.07,237.9 614.75,237.8 615.42,237.7 C616.1,237.6 616.78,237.51 617.46,237.42 C618.13,237.32 618.81,237.23 619.49,237.14 C620.17,237.06 620.85,236.97 621.52,236.88 C622.2,236.8 622.88,236.71 623.56,236.63 C624.24,236.55 624.92,236.47 625.6,236.39 C626.28,236.31 626.96,236.24 627.64,236.16 C628.32,236.09 629,236.02 629.68,235.94 C630.36,235.87 631.04,235.8 631.72,235.74 C632.4,235.67 633.09,235.6 633.77,235.54 C634.45,235.48 635.13,235.41 635.81,235.35 C636.5,235.29 637.18,235.23 637.86,235.18 C638.54,235.12 639.22,235.06 639.91,235.01 C640.59,234.96 641.27,234.9 641.96,234.85 C642.64,234.8 643.32,234.75 644.01,234.71 C644.69,234.66 645.37,234.62 646.06,234.57 C646.74,234.53 647.42,234.49 648.11,234.45 C648.79,234.41 649.48,234.37 650.16,234.33 C650.84,234.29 651.53,234.26 652.21,234.22 C652.9,234.19 653.58,234.16 654.27,234.13 C654.95,234.1 655.64,234.07 656.32,234.04 C657.01,234.01 657.69,233.98 658.38,233.96 C659.06,233.94 659.75,233.91 660.43,233.89 C661.12,233.87 661.8,233.85 662.49,233.83 C663.17,233.81 663.86,233.8 664.54,233.78 C665.23,233.77 665.92,233.75 666.6,233.74 C667.29,233.73 667.97,233.72 668.66,233.71 C669.34,233.7 670.03,233.69 670.71,233.69 C671.4,233.68 672.09,233.67 672.77,233.67 C673.46,233.67 674.14,233.67 674.83,233.67 C675.51,233.67 676.2,233.67 676.89,233.67 C677.57,233.67 678.26,233.68 678.94,233.68 C679.63,233.69 680.66,233.7 681,233.7" fill="none" stroke="#0000ff" stroke-width="3.2" stroke-linejoin="round" />
<path d="M413.2,-2 C413.24,-1.67 413.35,-0.66 413.42,0.01 C413.5,0.68 413.57,1.35 413.64,2.02 C413.71,2.69 413.78,3.37 413.85,4.04 C413.93,4.72 413.99,5.39 414.06,6.07 C414.13,6.75 414.2,7.43 414.27,8.11 C414.34,8.78 414.41,9.46 414.48,10.15 C414.55,10.83 414.61,11.51 414.68,12.19 C414.75,12.87 414.82,13.56 414.89,14.24 C414.96,14.92 415.03,15.61 415.1,16.29 C415.17,16.98 415.24,17.66 415.31,18.35 C415.38,19.03 415.45,19.72 415.52,20.41 C415.59,21.09 415.66,21.78 415.74,22.47 C415.81,23.15 415.89,23.84 415.96,24.53 C416.04,25.22 416.12,25.9 416.19,26.59 C416.27,27.28 416.35,27.97 416.43,28.65 C416.51,29.34 416.6,30.03 416.68,30.72 C416.77,31.4 416.85,32.09 416.94,32.78 C417.03,33.47 417.12,34.15 417.21,34.84 C417.3,35.53 417.39,36.21 417.49,36.9 C417.59,37.59 417.68,38.27 417.79,38.96 C417.89,39.64 417.99,40.33 418.09,41.01 C418.2,41.69 418.31,42.38 418.42,43.06 C418.53,43.74 418.64,44.42 418.76,45.11 C418.88,45.79 418.99,46.47 419.12,47.15 C419.24,47.83 419.36,48.5 419.49,49.18 C419.62,49.86 419.75,50.54 419.89,51.21 C420.02,51.89 420.16,52.56 420.31,53.24 C420.45,53.91 420.59,54.58 420.74,55.25 C420.89,55.92 421.05,56.59 421.2,57.26 C421.36,57.93 421.52,58.6 421.69,59.26 C421.85,59.93 422.02,60.59 422.2,61.26 C422.37,61.92 422.55,62.58 422.73,63.24 C422.92,63.9 423.1,64.56 423.29,65.21 C423.49,65.87 423.68,66.52 423.88,67.18 C424.09,67.83 424.29,68.48 424.5,69.13 C424.71,69.78 424.93,70.42 425.15,71.07 C425.37,71.71 425.6,72.36 425.83,73 C426.06,73.64 426.3,74.28 426.54,74.91 C426.79,75.55 427.04,76.19 427.29,76.82 C427.54,77.45 427.8,78.08 428.07,78.71 C428.33,79.33 428.61,79.96 428.88,80.58 C429.16,81.2 429.44,81.82 429.73,82.44 C430.02,83.06 430.32,83.67 430.62,84.29 C430.93,84.9 431.23,85.51 431.55,86.12 C431.87,86.72 432.19,87.33 432.52,87.93 C432.85,88.53 433.18,89.13 433.52,89.72 C433.87,90.32 434.22,90.91 434.57,91.5 C434.93,92.09 435.29,92.68 435.66,93.26 C436.03,93.84 436.61,94.71 436.8,95" fill="none" stroke="#0000ff" stroke-width="3" stroke-linejoin="round" />
<path d="M418.6,-0 C418.67,0.35 418.89,1.41 419.03,2.1 C419.17,2.79 419.31,3.48 419.44,4.16 C419.58,4.84 419.71,5.51 419.84,6.18 C419.97,6.85 420.1,7.52 420.22,8.18 C420.35,8.84 420.48,9.5 420.6,10.15 C420.72,10.81 420.84,11.46 420.97,12.11 C421.09,12.76 421.21,13.4 421.33,14.05 C421.45,14.69 421.56,15.34 421.68,15.98 C421.8,16.63 421.92,17.27 422.04,17.91 C422.16,18.56 422.28,19.2 422.4,19.85 C422.52,20.5 422.64,21.14 422.76,21.79 C422.88,22.44 423,23.09 423.13,23.75 C423.25,24.41 423.37,25.06 423.5,25.73 C423.63,26.39 423.76,27.05 423.89,27.73 C424.02,28.4 424.15,29.07 424.29,29.76 C424.42,30.44 424.56,31.13 424.7,31.82 C424.84,32.51 424.99,33.21 425.14,33.91 C425.29,34.61 425.44,35.32 425.61,36.02 C425.77,36.73 425.94,37.43 426.12,38.13 C426.3,38.83 426.49,39.53 426.69,40.22 C426.89,40.91 427.1,41.6 427.33,42.28 C427.55,42.96 427.79,43.63 428.04,44.29 C428.3,44.95 428.56,45.6 428.85,46.24 C429.13,46.87 429.43,47.5 429.75,48.1 C430.07,48.71 430.41,49.3 430.77,49.87 C431.13,50.44 431.51,51 431.91,51.53 C432.31,52.06 432.74,52.58 433.19,53.06 C433.64,53.55 434.11,54.01 434.61,54.45 C435.1,54.88 435.62,55.29 436.15,55.67 C436.68,56.04 437.24,56.39 437.8,56.7 C438.37,57.01 438.95,57.28 439.54,57.51 C440.13,57.74 440.73,57.94 441.33,58.08 C441.94,58.23 442.55,58.33 443.17,58.39 C443.78,58.44 444.4,58.44 445.01,58.4 C445.63,58.36 446.25,58.27 446.86,58.13 C447.48,58 448.09,57.82 448.7,57.61 C449.3,57.39 449.91,57.14 450.5,56.85 C451.1,56.57 451.69,56.24 452.27,55.89 C452.85,55.55 453.42,55.17 453.98,54.76 C454.55,54.36 455.1,53.93 455.63,53.49 C456.17,53.04 456.7,52.58 457.21,52.1 C457.71,51.62 458.21,51.12 458.69,50.61 C459.17,50.11 459.64,49.58 460.1,49.05 C460.55,48.52 461,47.98 461.43,47.43 C461.87,46.88 462.3,46.33 462.72,45.76 C463.14,45.2 463.55,44.63 463.96,44.06 C464.36,43.5 464.76,42.92 465.16,42.35 C465.56,41.77 465.96,41.2 466.35,40.63 C466.74,40.05 467.13,39.48 467.52,38.91 C467.92,38.35 468.3,37.78 468.69,37.22 C469.08,36.65 469.47,36.09 469.86,35.53 C470.24,34.97 470.63,34.41 471.01,33.85 C471.4,33.29 471.78,32.73 472.16,32.18 C472.54,31.62 472.93,31.07 473.3,30.51 C473.68,29.96 474.06,29.4 474.44,28.85 C474.82,28.3 475.19,27.74 475.57,27.19 C475.94,26.64 476.32,26.08 476.69,25.53 C477.06,24.97 477.43,24.42 477.8,23.87 C478.17,23.31 478.54,22.75 478.91,22.2 C479.27,21.64 479.64,21.08 480,20.52 C480.37,19.96 480.73,19.4 481.09,18.84 C481.46,18.28 481.82,17.71 482.17,17.15 C482.53,16.58 482.89,16.01 483.25,15.44 C483.6,14.87 483.96,14.3 484.31,13.72 C484.66,13.15 485.01,12.57 485.37,11.99 C485.72,11.41 486.06,10.82 486.41,10.23 C486.76,9.65 487.1,9.05 487.45,8.46 C487.79,7.87 488.13,7.27 488.47,6.66 C488.82,6.06 489.15,5.46 489.49,4.85 C489.83,4.23 490.33,3.31 490.5,3" fill="none" stroke="#ff0000" stroke-width="1.9" stroke-linejoin="round" />
<line x1="421.98" y1="17" x2="425.98" y2="17" stroke="#ff0000" stroke-width="1.5" />
<line x1="478.06" y1="17" x2="482.06" y2="17" stroke="#ff0000" stroke-width="1.5" />
<line x1="423.25" y1="24.8" x2="427.25" y2="24.8" stroke="#ff0000" stroke-width="1.5" />
<line x1="473.42" y1="24.8" x2="477.42" y2="24.8" stroke="#ff0000" stroke-width="1.5" />
<line x1="424.91" y1="32.4" x2="428.91" y2="32.4" stroke="#ff0000" stroke-width="1.5" />
<line x1="468.14" y1="32.4" x2="472.14" y2="32.4" stroke="#ff0000" stroke-width="1.5" />
<line x1="426.95" y1="40.1" x2="430.95" y2="40.1" stroke="#ff0000" stroke-width="1.5" />
<line x1="462.57" y1="40.1" x2="466.57" y2="40.1" stroke="#ff0000" stroke-width="1.5" />
<line x1="430.07" y1="47.8" x2="434.07" y2="47.8" stroke="#ff0000" stroke-width="1.5" />
<line x1="456.8" y1="47.8" x2="460.8" y2="47.8" stroke="#ff0000" stroke-width="1.5" />
<line x1="435.9" y1="55.3" x2="452.8" y2="55.3" stroke="#ff0000" stroke-width="1.5" />
<line x1="385.5" y1="104.8" x2="678.5" y2="104.8" stroke="#b8860b" stroke-width="1.8" stroke-dasharray="1.75 2.892" stroke-dashoffset="-0.8"/>
<line x1="385.5" y1="170" x2="678.5" y2="170" stroke="#008000" stroke-width="1.8" stroke-dasharray="1.75 2.892" stroke-dashoffset="-0.8"/>
<line x1="385.5" y1="234" x2="678.5" y2="234" stroke="#0000ff" stroke-width="1.8" stroke-dasharray="1.75 2.892" stroke-dashoffset="-0.8"/>
</g>
<rect x="34.5" y="6.4" width="293" height="262" fill="none" stroke="#1a1a1a" stroke-width="0.85"/>
<path d="M34.5,252.03H31M34.5,219.28H31M34.5,186.53H31M34.5,153.78H31M34.5,121.03H31M34.5,88.28H31M34.5,55.52H31M34.5,22.77H31M34.5,268.4H32.5M34.5,235.65H32.5M34.5,202.9H32.5M34.5,170.15H32.5M34.5,137.4H32.5M34.5,104.65H32.5M34.5,71.9H32.5M34.5,39.15H32.5M34.5,6.4H32.5M34.5,268.4V271.9M83.33,268.4V271.9M132.17,268.4V271.9M181,268.4V271.9M229.83,268.4V271.9M278.67,268.4V271.9M327.5,268.4V271.9M44.27,268.4V270.4M54.03,268.4V270.4M63.8,268.4V270.4M73.57,268.4V270.4M93.1,268.4V270.4M102.87,268.4V270.4M112.63,268.4V270.4M122.4,268.4V270.4M141.93,268.4V270.4M151.7,268.4V270.4M161.47,268.4V270.4M171.23,268.4V270.4M190.77,268.4V270.4M200.53,268.4V270.4M210.3,268.4V270.4M220.07,268.4V270.4M239.6,268.4V270.4M249.37,268.4V270.4M259.13,268.4V270.4M268.9,268.4V270.4M288.43,268.4V270.4M298.2,268.4V270.4M307.97,268.4V270.4M317.73,268.4V270.4" stroke="#1a1a1a" stroke-width="0.8" fill="none"/>
<rect x="16" y="251.78" width="5.4" height="0.95" fill="#000"/>
<g transform="translate(22.26,255.38) scale(0.10870,0.09718)" fill="#000" stroke="#000" stroke-width="0.78" stroke-linejoin="round"><text x="0" y="-0" font-size="100" xml:space="preserve">6</text></g>
<rect x="16" y="219.03" width="5.4" height="0.95" fill="#000"/>
<g transform="translate(22.38,222.63) scale(0.10526,0.09857)" fill="#000" stroke="#000" stroke-width="0.79" stroke-linejoin="round"><text x="0" y="-0" font-size="100" xml:space="preserve">5</text></g>
<rect x="16" y="186.28" width="5.4" height="0.95" fill="#000"/>
<g transform="translate(22.55,189.97) scale(0.10000,0.10000)" fill="#000" stroke="#000" stroke-width="0.8" stroke-linejoin="round"><text x="0" y="-0" font-size="100" xml:space="preserve">4</text></g>
<rect x="16" y="153.53" width="5.4" height="0.95" fill="#000"/>
<g transform="translate(22.37,157.13) scale(0.10638,0.09718)" fill="#000" stroke="#000" stroke-width="0.79" stroke-linejoin="round"><text x="0" y="-0" font-size="100" xml:space="preserve">3</text></g>
<rect x="16" y="120.78" width="5.4" height="0.95" fill="#000"/>
<g transform="translate(22.25,124.48) scale(0.10989,0.09857)" fill="#000" stroke="#000" stroke-width="0.77" stroke-linejoin="round"><text x="0" y="-0" font-size="100" xml:space="preserve">2</text></g>
<rect x="16" y="88.03" width="5.4" height="0.95" fill="#000"/>
<g transform="translate(22.38,91.73) scale(0.09535,0.10000)" fill="#000" stroke="#000" stroke-width="0.82" stroke-linejoin="round"><text x="0" y="-0" font-size="100" xml:space="preserve">1</text></g>
<g transform="translate(22.38,58.88) scale(0.10526,0.09718)" fill="#000" stroke="#000" stroke-width="0.79" stroke-linejoin="round"><text x="0" y="-0" font-size="100" xml:space="preserve">0</text></g>
<g transform="translate(22.38,26.22) scale(0.09535,0.10000)" fill="#000" stroke="#000" stroke-width="0.82" stroke-linejoin="round"><text x="0" y="-0" font-size="100" xml:space="preserve">1</text></g>
<g transform="translate(27.18,281.41) scale(0.10275,0.09429)" fill="#000" stroke="#000" stroke-width="0.81" stroke-linejoin="round"><text x="0" y="-0" font-size="100" xml:space="preserve">1.5</text></g>
<g transform="translate(76.28,281.41) scale(0.10077,0.09296)" fill="#000" stroke="#000" stroke-width="0.83" stroke-linejoin="round"><text x="0" y="-0" font-size="100" xml:space="preserve">2.0</text></g>
<g transform="translate(125.11,281.41) scale(0.10077,0.09296)" fill="#000" stroke="#000" stroke-width="0.83" stroke-linejoin="round"><text x="0" y="-0" font-size="100" xml:space="preserve">2.5</text></g>
<g transform="translate(174.05,281.41) scale(0.10000,0.09296)" fill="#000" stroke="#000" stroke-width="0.83" stroke-linejoin="round"><text x="0" y="-0" font-size="100" xml:space="preserve">3.0</text></g>
<g transform="translate(222.88,281.41) scale(0.10000,0.09296)" fill="#000" stroke="#000" stroke-width="0.83" stroke-linejoin="round"><text x="0" y="-0" font-size="100" xml:space="preserve">3.5</text></g>
<g transform="translate(271.87,281.41) scale(0.09887,0.09296)" fill="#000" stroke="#000" stroke-width="0.83" stroke-linejoin="round"><text x="0" y="-0" font-size="100" xml:space="preserve">4.0</text></g>
<g transform="translate(320.7,281.41) scale(0.09887,0.09429)" fill="#000" stroke="#000" stroke-width="0.83" stroke-linejoin="round"><text x="0" y="-0" font-size="100" xml:space="preserve">4.5</text></g>
<rect x="385.5" y="6.4" width="293" height="262" fill="none" stroke="#1a1a1a" stroke-width="0.85"/>
<path d="M385.5,252.03H382M385.5,219.28H382M385.5,186.53H382M385.5,153.78H382M385.5,121.03H382M385.5,88.28H382M385.5,55.52H382M385.5,22.77H382M385.5,268.4H383.5M385.5,235.65H383.5M385.5,202.9H383.5M385.5,170.15H383.5M385.5,137.4H383.5M385.5,104.65H383.5M385.5,71.9H383.5M385.5,39.15H383.5M385.5,6.4H383.5M385.5,268.4V271.9M434.33,268.4V271.9M483.17,268.4V271.9M532,268.4V271.9M580.83,268.4V271.9M629.67,268.4V271.9M678.5,268.4V271.9M395.27,268.4V270.4M405.03,268.4V270.4M414.8,268.4V270.4M424.57,268.4V270.4M444.1,268.4V270.4M453.87,268.4V270.4M463.63,268.4V270.4M473.4,268.4V270.4M492.93,268.4V270.4M502.7,268.4V270.4M512.47,268.4V270.4M522.23,268.4V270.4M541.77,268.4V270.4M551.53,268.4V270.4M561.3,268.4V270.4M571.07,268.4V270.4M590.6,268.4V270.4M600.37,268.4V270.4M610.13,268.4V270.4M619.9,268.4V270.4M639.43,268.4V270.4M649.2,268.4V270.4M658.97,268.4V270.4M668.73,268.4V270.4" stroke="#1a1a1a" stroke-width="0.8" fill="none"/>
<rect x="367" y="251.78" width="5.4" height="0.95" fill="#000"/>
<g transform="translate(373.26,255.38) scale(0.10870,0.09718)" fill="#000" stroke="#000" stroke-width="0.78" stroke-linejoin="round"><text x="0" y="-0" font-size="100" xml:space="preserve">6</text></g>
<rect x="367" y="219.03" width="5.4" height="0.95" fill="#000"/>
<g transform="translate(373.38,222.63) scale(0.10526,0.09857)" fill="#000" stroke="#000" stroke-width="0.79" stroke-linejoin="round"><text x="0" y="-0" font-size="100" xml:space="preserve">5</text></g>
<rect x="367" y="186.28" width="5.4" height="0.95" fill="#000"/>
<g transform="translate(373.55,189.97) scale(0.10000,0.10000)" fill="#000" stroke="#000" stroke-width="0.8" stroke-linejoin="round"><text x="0" y="-0" font-size="100" xml:space="preserve">4</text></g>
<rect x="367" y="153.53" width="5.4" height="0.95" fill="#000"/>
<g transform="translate(373.37,157.13) scale(0.10638,0.09718)" fill="#000" stroke="#000" stroke-width="0.79" stroke-linejoin="round"><text x="0" y="-0" font-size="100" xml:space="preserve">3</text></g>
<rect x="367" y="120.78" width="5.4" height="0.95" fill="#000"/>
<g transform="translate(373.25,124.48) scale(0.10989,0.09857)" fill="#000" stroke="#000" stroke-width="0.77" stroke-linejoin="round"><text x="0" y="-0" font-size="100" xml:space="preserve">2</text></g>
<rect x="367" y="88.03" width="5.4" height="0.95" fill="#000"/>
<g transform="translate(373.38,91.73) scale(0.09535,0.10000)" fill="#000" stroke="#000" stroke-width="0.82" stroke-linejoin="round"><text x="0" y="-0" font-size="100" xml:space="preserve">1</text></g>
<g transform="translate(373.38,58.88) scale(0.10526,0.09718)" fill="#000" stroke="#000" stroke-width="0.79" stroke-linejoin="round"><text x="0" y="-0" font-size="100" xml:space="preserve">0</text></g>
<g transform="translate(373.38,26.22) scale(0.09535,0.10000)" fill="#000" stroke="#000" stroke-width="0.82" stroke-linejoin="round"><text x="0" y="-0" font-size="100" xml:space="preserve">1</text></g>
<g transform="translate(378.18,281.41) scale(0.10275,0.09429)" fill="#000" stroke="#000" stroke-width="0.81" stroke-linejoin="round"><text x="0" y="-0" font-size="100" xml:space="preserve">1.5</text></g>
<g transform="translate(427.28,281.41) scale(0.10077,0.09296)" fill="#000" stroke="#000" stroke-width="0.83" stroke-linejoin="round"><text x="0" y="-0" font-size="100" xml:space="preserve">2.0</text></g>
<g transform="translate(476.11,281.41) scale(0.10077,0.09296)" fill="#000" stroke="#000" stroke-width="0.83" stroke-linejoin="round"><text x="0" y="-0" font-size="100" xml:space="preserve">2.5</text></g>
<g transform="translate(525.05,281.41) scale(0.10000,0.09296)" fill="#000" stroke="#000" stroke-width="0.83" stroke-linejoin="round"><text x="0" y="-0" font-size="100" xml:space="preserve">3.0</text></g>
<g transform="translate(573.88,281.41) scale(0.10000,0.09296)" fill="#000" stroke="#000" stroke-width="0.83" stroke-linejoin="round"><text x="0" y="-0" font-size="100" xml:space="preserve">3.5</text></g>
<g transform="translate(622.87,281.41) scale(0.09887,0.09296)" fill="#000" stroke="#000" stroke-width="0.83" stroke-linejoin="round"><text x="0" y="-0" font-size="100" xml:space="preserve">4.0</text></g>
<g transform="translate(671.7,281.41) scale(0.09887,0.09429)" fill="#000" stroke="#000" stroke-width="0.83" stroke-linejoin="round"><text x="0" y="-0" font-size="100" xml:space="preserve">4.5</text></g>
<g transform="translate(81.51,15.49) scale(0.08759,0.10563)" fill="#ff0000" stroke="#ff0000" stroke-width="1.66" stroke-linejoin="round"><text x="0" y="-0" font-size="100" xml:space="preserve">O</text></g>
<g transform="translate(89.08,18.2) scale(0.08352,0.07286)" fill="#ff0000" stroke="#ff0000" stroke-width="2.05" stroke-linejoin="round"><text x="0" y="-0" font-size="100" xml:space="preserve">2</text></g>
<g transform="translate(89.56,12.57) scale(0.08866,0.08571)" fill="#ff0000" stroke="#ff0000" stroke-width="1.84" stroke-linejoin="round"><text x="0" y="-0" font-size="100" xml:space="preserve">+</text></g>
<rect x="98.4" y="12.1" width="2.8" height="1.1" fill="#ff0000"/>
<g transform="translate(104.41,15.7) scale(0.08624,0.10580)" fill="#ff0000" stroke="#ff0000" stroke-width="1.68" stroke-linejoin="round"><text x="0" y="-0" font-size="100" xml:space="preserve">E</text></g>
<g transform="translate(110.65,15.7) scale(0.09697,0.10580)" fill="#ff0000" stroke="#ff0000" stroke-width="1.58" stroke-linejoin="round"><text x="0" y="-0" font-size="100" xml:space="preserve">A</text></g>
<g transform="translate(258.67,98) scale(0.11774,0.10725)" fill="#b8860b" stroke="#b8860b" stroke-width="0.89" stroke-linejoin="round"><text x="0" y="-0" font-size="100" xml:space="preserve">O(</text><text x="111.09" y="-42" font-size="78" xml:space="preserve">1</text><text x="154.47" y="-0" font-size="100" xml:space="preserve">D)+O(</text><text x="429.48" y="-42" font-size="78" xml:space="preserve">1</text><text x="472.86" y="-0" font-size="100" xml:space="preserve">D)</text></g>
<g transform="translate(258.67,164.9) scale(0.11693,0.10580)" fill="#008000" stroke="#008000" stroke-width="0.9" stroke-linejoin="round"><text x="0" y="-0" font-size="100" xml:space="preserve">O(</text><text x="111.09" y="-42" font-size="78" xml:space="preserve">1</text><text x="154.47" y="-0" font-size="100" xml:space="preserve">D)+O(</text><text x="429.48" y="-42" font-size="78" xml:space="preserve">3</text><text x="472.86" y="-0" font-size="100" xml:space="preserve">P)</text></g>
<g transform="translate(258.59,248.8) scale(0.11378,0.10870)" fill="#0000ff" stroke="#0000ff" stroke-width="0.9" stroke-linejoin="round"><text x="0" y="-0" font-size="100" xml:space="preserve">O(</text><text x="111.09" y="-42" font-size="78" xml:space="preserve">3</text><text x="154.47" y="-0" font-size="100" xml:space="preserve">P)+O(</text><text x="423.96" y="-42" font-size="78" xml:space="preserve">3</text><text x="467.34" y="-0" font-size="100" xml:space="preserve">P)</text></g>
<g transform="translate(9.1,172.78) rotate(-90) scale(0.13455,0.12754)" fill="#000" stroke="#000" stroke-width="0" stroke-linejoin="round"><text x="0" y="-0" font-size="100" xml:space="preserve">Energy (eV)</text></g>
<g transform="translate(432.51,15.49) scale(0.08759,0.10563)" fill="#ff0000" stroke="#ff0000" stroke-width="1.66" stroke-linejoin="round"><text x="0" y="-0" font-size="100" xml:space="preserve">O</text></g>
<g transform="translate(440.08,18.2) scale(0.08352,0.07286)" fill="#ff0000" stroke="#ff0000" stroke-width="2.05" stroke-linejoin="round"><text x="0" y="-0" font-size="100" xml:space="preserve">2</text></g>
<g transform="translate(440.56,12.57) scale(0.08866,0.08571)" fill="#ff0000" stroke="#ff0000" stroke-width="1.84" stroke-linejoin="round"><text x="0" y="-0" font-size="100" xml:space="preserve">+</text></g>
<rect x="449.4" y="12.1" width="2.8" height="1.1" fill="#ff0000"/>
<g transform="translate(455.41,15.7) scale(0.08624,0.10580)" fill="#ff0000" stroke="#ff0000" stroke-width="1.68" stroke-linejoin="round"><text x="0" y="-0" font-size="100" xml:space="preserve">E</text></g>
<g transform="translate(461.65,15.7) scale(0.09697,0.10580)" fill="#ff0000" stroke="#ff0000" stroke-width="1.58" stroke-linejoin="round"><text x="0" y="-0" font-size="100" xml:space="preserve">A</text></g>
<g transform="translate(609.67,98) scale(0.11774,0.10725)" fill="#b8860b" stroke="#b8860b" stroke-width="0.89" stroke-linejoin="round"><text x="0" y="-0" font-size="100" xml:space="preserve">O(</text><text x="111.09" y="-42" font-size="78" xml:space="preserve">1</text><text x="154.47" y="-0" font-size="100" xml:space="preserve">D)+O(</text><text x="429.48" y="-42" font-size="78" xml:space="preserve">1</text><text x="472.86" y="-0" font-size="100" xml:space="preserve">D)</text></g>
<g transform="translate(609.67,164.9) scale(0.11693,0.10580)" fill="#008000" stroke="#008000" stroke-width="0.9" stroke-linejoin="round"><text x="0" y="-0" font-size="100" xml:space="preserve">O(</text><text x="111.09" y="-42" font-size="78" xml:space="preserve">1</text><text x="154.47" y="-0" font-size="100" xml:space="preserve">D)+O(</text><text x="429.48" y="-42" font-size="78" xml:space="preserve">3</text><text x="472.86" y="-0" font-size="100" xml:space="preserve">P)</text></g>
<g transform="translate(610.39,224.6) scale(0.11378,0.10870)" fill="#0000ff" stroke="#0000ff" stroke-width="0.9" stroke-linejoin="round"><text x="0" y="-0" font-size="100" xml:space="preserve">O(</text><text x="111.09" y="-42" font-size="78" xml:space="preserve">3</text><text x="154.47" y="-0" font-size="100" xml:space="preserve">P)+O(</text><text x="423.96" y="-42" font-size="78" xml:space="preserve">3</text><text x="467.34" y="-0" font-size="100" xml:space="preserve">P)</text></g>
<g transform="translate(360.8,172.78) rotate(-90) scale(0.13455,0.12754)" fill="#000" stroke="#000" stroke-width="0" stroke-linejoin="round"><text x="0" y="-0" font-size="100" xml:space="preserve">Energy (eV)</text></g>
<g transform="translate(0.78,12.43) scale(0.17170,0.16909)" fill="#000" stroke="#000" stroke-width="3.23" stroke-linejoin="round"><text x="0" y="-0" font-size="100" font-weight="bold" xml:space="preserve">a</text></g>
<g transform="translate(351.87,12.63) scale(0.20396,0.17279)" fill="#000" stroke="#000" stroke-width="2.93" stroke-linejoin="round"><text x="0" y="-0" font-size="100" font-weight="bold" xml:space="preserve">b</text></g>
<g transform="translate(166.82,50.79) scale(0.09524,0.10704)" fill="#000000" stroke="#000000" stroke-width="0.99" stroke-linejoin="round"><text x="0" y="-0" font-size="100" xml:space="preserve">C</text></g>
<g transform="translate(176.71,46.8) scale(0.06512,0.07246)" fill="#000000" stroke="#000000" stroke-width="1.46" stroke-linejoin="round"><text x="0" y="-0" font-size="100" xml:space="preserve">1</text></g>
<g transform="translate(180.04,46.43) scale(0.14000,0.09787)" fill="#000000" stroke="#000000" stroke-width="0.85" stroke-linejoin="round"><text x="0" y="-0" font-size="100" xml:space="preserve">,</text></g>
<g transform="translate(184.4,46.73) scale(0.07447,0.07042)" fill="#000000" stroke="#000000" stroke-width="1.38" stroke-linejoin="round"><text x="0" y="-0" font-size="100" xml:space="preserve">3</text></g>
<g transform="translate(189.09,50.8) scale(0.10179,0.10290)" fill="#000000" stroke="#000000" stroke-width="0.98" stroke-linejoin="round"><text x="0" y="-0" font-size="100" xml:space="preserve">Π</text></g>
<g transform="translate(195.5,52.23) scale(0.10000,0.06980)" fill="#000000" stroke="#000000" stroke-width="1.2" stroke-linejoin="round"><text x="0" y="-0" font-size="100" xml:space="preserve">g</text></g>
<g transform="translate(150.01,95) scale(0.09890,0.10429)" fill="#0000ff" stroke="#0000ff" stroke-width="1.58" stroke-linejoin="round"><text x="0" y="-0" font-size="100" xml:space="preserve">2</text></g>
<g transform="translate(158.91,91.52) scale(0.07234,0.07606)" fill="#0000ff" stroke="#0000ff" stroke-width="2.16" stroke-linejoin="round"><text x="0" y="-0" font-size="100" xml:space="preserve">3</text></g>
<g transform="translate(163.29,95) scale(0.10179,0.10580)" fill="#0000ff" stroke="#0000ff" stroke-width="1.54" stroke-linejoin="round"><text x="0" y="-0" font-size="100" xml:space="preserve">Π</text></g>
<g transform="translate(170.3,96.37) scale(0.10000,0.07785)" fill="#0000ff" stroke="#0000ff" stroke-width="1.81" stroke-linejoin="round"><text x="0" y="-0" font-size="100" xml:space="preserve">g</text></g>
<g transform="translate(128.35,130.7) scale(0.08605,0.10725)" fill="#b8860b" stroke="#b8860b" stroke-width="1.67" stroke-linejoin="round"><text x="0" y="-0" font-size="100" xml:space="preserve">1</text></g>
<g transform="translate(137.13,127) scale(0.06279,0.07536)" fill="#b8860b" stroke="#b8860b" stroke-width="2.33" stroke-linejoin="round"><text x="0" y="-0" font-size="100" xml:space="preserve">1</text></g>
<g transform="translate(141.29,130.7) scale(0.10179,0.10725)" fill="#b8860b" stroke="#b8860b" stroke-width="1.53" stroke-linejoin="round"><text x="0" y="-0" font-size="100" xml:space="preserve">Π</text></g>
<g transform="translate(148.74,131.88) scale(0.08889,0.07248)" fill="#b8860b" stroke="#b8860b" stroke-width="1.99" stroke-linejoin="round"><text x="0" y="-0" font-size="100" xml:space="preserve">g</text></g>
<g transform="translate(128.35,160.4) scale(0.08605,0.10725)" fill="#008000" stroke="#008000" stroke-width="1.67" stroke-linejoin="round"><text x="0" y="-0" font-size="100" xml:space="preserve">1</text></g>
<g transform="translate(136.79,156.63) scale(0.07660,0.07465)" fill="#008000" stroke="#008000" stroke-width="2.12" stroke-linejoin="round"><text x="0" y="-0" font-size="100" xml:space="preserve">3</text></g>
<g transform="translate(141.29,160.4) scale(0.10179,0.10725)" fill="#008000" stroke="#008000" stroke-width="1.53" stroke-linejoin="round"><text x="0" y="-0" font-size="100" xml:space="preserve">Π</text></g>
<g transform="translate(148.74,161.58) scale(0.08889,0.07248)" fill="#008000" stroke="#008000" stroke-width="1.99" stroke-linejoin="round"><text x="0" y="-0" font-size="100" xml:space="preserve">g</text></g>
<g transform="translate(53.6,94.92) rotate(-90) scale(0.10551,0.12319)" fill="#008000" stroke="#008000" stroke-width="1.32" stroke-linejoin="round"><text x="0" y="-0" font-size="100" font-style="italic" xml:space="preserve">E</text><text x="66.7" y="9" font-size="68" font-style="italic" xml:space="preserve">K</text><text x="112.06" y="17" font-size="50" font-style="italic" xml:space="preserve">i</text></g>
<g transform="translate(88.4,94.91) rotate(-90) scale(0.10387,0.12464)" fill="#000000" stroke="#000000" stroke-width="1.32" stroke-linejoin="round"><text x="0" y="-0" font-size="100" font-style="italic" xml:space="preserve">E</text><text x="66.7" y="9" font-size="68" font-style="italic" xml:space="preserve">K</text><text x="112.06" y="17" font-size="50" font-style="italic" xml:space="preserve">i</text></g>
<g transform="translate(149.28,295.9) scale(0.14857,0.13148)" fill="#000" stroke="#000" stroke-width="0" stroke-linejoin="round"><text x="0" y="-0" font-size="100" font-style="italic" xml:space="preserve">r</text></g>
<g transform="translate(154.44,297.09) scale(0.08000,0.08128)" fill="#000" stroke="#000" stroke-width="0" stroke-linejoin="round"><text x="0" y="-0" font-size="100" xml:space="preserve">[</text></g>
<g transform="translate(157.2,297.72) scale(0.08905,0.08169)" fill="#000" stroke="#000" stroke-width="0" stroke-linejoin="round"><text x="0" y="-0" font-size="100" xml:space="preserve">O</text></g>
<rect x="167.2" y="294.9" width="5.1" height="0.9" fill="#000"/>
<g transform="translate(174.5,297.72) scale(0.08905,0.08169)" fill="#000" stroke="#000" stroke-width="0" stroke-linejoin="round"><text x="0" y="-0" font-size="100" xml:space="preserve">O</text></g>
<g transform="translate(182.51,297.09) scale(0.08718,0.08128)" fill="#000" stroke="#000" stroke-width="0" stroke-linejoin="round"><text x="0" y="-0" font-size="100" xml:space="preserve">]</text></g>
<g transform="translate(189.3,294.99) scale(0.11698,0.12406)" fill="#000" stroke="#000" stroke-width="0" stroke-linejoin="round"><text x="0" y="-0" font-size="100" xml:space="preserve">(</text></g>
<g transform="translate(194.24,295.47) scale(0.10303,0.12909)" fill="#000" stroke="#000" stroke-width="0" stroke-linejoin="round"><text x="0" y="-0" font-size="100" font-style="italic" xml:space="preserve">a</text></g>
<g transform="translate(201.01,297.51) scale(0.07158,0.08732)" fill="#000" stroke="#000" stroke-width="0" stroke-linejoin="round"><text x="0" y="-0" font-size="100" xml:space="preserve">0</text></g>
<g transform="translate(207.78,294.99) scale(0.11923,0.12406)" fill="#000" stroke="#000" stroke-width="0" stroke-linejoin="round"><text x="0" y="-0" font-size="100" xml:space="preserve">)</text></g>
<g transform="translate(498.68,295.9) scale(0.14857,0.13148)" fill="#000" stroke="#000" stroke-width="0" stroke-linejoin="round"><text x="0" y="-0" font-size="100" font-style="italic" xml:space="preserve">r</text></g>
<g transform="translate(503.84,297.09) scale(0.08000,0.08128)" fill="#000" stroke="#000" stroke-width="0" stroke-linejoin="round"><text x="0" y="-0" font-size="100" xml:space="preserve">[</text></g>
<g transform="translate(506.6,297.72) scale(0.08905,0.08169)" fill="#000" stroke="#000" stroke-width="0" stroke-linejoin="round"><text x="0" y="-0" font-size="100" xml:space="preserve">O</text></g>
<rect x="516.6" y="294.9" width="5.1" height="0.9" fill="#000"/>
<g transform="translate(523.9,297.72) scale(0.08905,0.08169)" fill="#000" stroke="#000" stroke-width="0" stroke-linejoin="round"><text x="0" y="-0" font-size="100" xml:space="preserve">O</text></g>
<g transform="translate(531.91,297.09) scale(0.08718,0.08128)" fill="#000" stroke="#000" stroke-width="0" stroke-linejoin="round"><text x="0" y="-0" font-size="100" xml:space="preserve">]</text></g>
<g transform="translate(542.7,294.99) scale(0.11698,0.12406)" fill="#000" stroke="#000" stroke-width="0" stroke-linejoin="round"><text x="0" y="-0" font-size="100" xml:space="preserve">(</text></g>
<g transform="translate(547.64,295.47) scale(0.10303,0.12909)" fill="#000" stroke="#000" stroke-width="0" stroke-linejoin="round"><text x="0" y="-0" font-size="100" font-style="italic" xml:space="preserve">a</text></g>
<g transform="translate(554.41,297.51) scale(0.07158,0.08732)" fill="#000" stroke="#000" stroke-width="0" stroke-linejoin="round"><text x="0" y="-0" font-size="100" xml:space="preserve">0</text></g>
<g transform="translate(561.18,294.99) scale(0.11923,0.12406)" fill="#000" stroke="#000" stroke-width="0" stroke-linejoin="round"><text x="0" y="-0" font-size="100" xml:space="preserve">)</text></g>
<g transform="translate(485.1,57.1) scale(0.11261,0.10580)" fill="#000000" stroke="#000000" stroke-width="0.92" stroke-linejoin="round"><text x="0" y="-0" font-size="100" xml:space="preserve">D</text></g>
<g transform="translate(496.12,53.33) scale(0.07021,0.07042)" fill="#000000" stroke="#000000" stroke-width="1.42" stroke-linejoin="round"><text x="0" y="-0" font-size="100" xml:space="preserve">3</text></g>
<g transform="translate(500.61,57.1) scale(0.08952,0.10580)" fill="#000000" stroke="#000000" stroke-width="1.03" stroke-linejoin="round"><text x="0" y="-0" font-size="100" xml:space="preserve">Σ</text></g>
<g transform="translate(506.19,59.63) scale(0.09412,0.07407)" fill="#000000" stroke="#000000" stroke-width="1.2" stroke-linejoin="round"><text x="0" y="-0" font-size="100" xml:space="preserve">u</text></g>
<g transform="translate(507.95,54.97) scale(0.09072,0.08571)" fill="#000000" stroke="#000000" stroke-width="1.13" stroke-linejoin="round"><text x="0" y="-0" font-size="100" xml:space="preserve">+</text></g>
<g transform="translate(483.31,89.4) scale(0.06512,0.07826)" fill="#b8860b" stroke="#b8860b" stroke-width="2.24" stroke-linejoin="round"><text x="0" y="-0" font-size="100" xml:space="preserve">1</text></g>
<g transform="translate(487.49,92.8) scale(0.10492,0.10000)" fill="#b8860b" stroke="#b8860b" stroke-width="1.56" stroke-linejoin="round"><text x="0" y="-0" font-size="100" xml:space="preserve">Δ</text></g>
<g transform="translate(493.98,94.63) scale(0.08000,0.07407)" fill="#b8860b" stroke="#b8860b" stroke-width="2.08" stroke-linejoin="round"><text x="0" y="-0" font-size="100" xml:space="preserve">u</text></g>
<g transform="translate(449.34,124.1) scale(0.09533,0.09855)" fill="#008000" stroke="#008000" stroke-width="1.65" stroke-linejoin="round"><text x="0" y="-0" font-size="100" xml:space="preserve">B</text></g>
<g transform="translate(447.44,133.13) scale(0.06383,0.07183)" fill="#008000" stroke="#008000" stroke-width="2.36" stroke-linejoin="round"><text x="0" y="-0" font-size="100" xml:space="preserve">3</text></g>
<g transform="translate(452.36,137) scale(0.09905,0.10290)" fill="#008000" stroke="#008000" stroke-width="1.58" stroke-linejoin="round"><text x="0" y="-0" font-size="100" xml:space="preserve">Σ</text></g>
<g transform="translate(457.53,139.42) scale(0.08706,0.07593)" fill="#008000" stroke="#008000" stroke-width="1.97" stroke-linejoin="round"><text x="0" y="-0" font-size="100" xml:space="preserve">u</text></g>
<rect x="460.1" y="130.8" width="4.1" height="1" fill="#008000"/>
<g transform="translate(488.86,156.63) scale(0.05957,0.07465)" fill="#0000ff" stroke="#0000ff" stroke-width="2.4" stroke-linejoin="round"><text x="0" y="-0" font-size="100" xml:space="preserve">3</text></g>
<g transform="translate(492.94,160.4) scale(0.09464,0.10725)" fill="#0000ff" stroke="#0000ff" stroke-width="1.59" stroke-linejoin="round"><text x="0" y="-0" font-size="100" xml:space="preserve">Π</text></g>
<g transform="translate(499.83,161.93) scale(0.08706,0.07407)" fill="#0000ff" stroke="#0000ff" stroke-width="1.99" stroke-linejoin="round"><text x="0" y="-0" font-size="100" xml:space="preserve">u</text></g>
<g transform="translate(508.46,155) scale(0.05814,0.06812)" fill="#0000ff" stroke="#0000ff" stroke-width="2.54" stroke-linejoin="round"><text x="0" y="-0" font-size="100" xml:space="preserve">1</text></g>
<g transform="translate(512.29,158.7) scale(0.10179,0.10580)" fill="#0000ff" stroke="#0000ff" stroke-width="1.54" stroke-linejoin="round"><text x="0" y="-0" font-size="100" xml:space="preserve">Π</text></g>
<g transform="translate(519.19,160.32) scale(0.09412,0.07593)" fill="#0000ff" stroke="#0000ff" stroke-width="1.89" stroke-linejoin="round"><text x="0" y="-0" font-size="100" xml:space="preserve">u</text></g>
<g transform="translate(449.45,217.33) scale(0.06170,0.07465)" fill="#0000ff" stroke="#0000ff" stroke-width="2.36" stroke-linejoin="round"><text x="0" y="-0" font-size="100" xml:space="preserve">3</text></g>
<g transform="translate(453.81,220.9) scale(0.09672,0.10435)" fill="#0000ff" stroke="#0000ff" stroke-width="1.59" stroke-linejoin="round"><text x="0" y="-0" font-size="100" xml:space="preserve">Δ</text></g>
<g transform="translate(459.79,222.53) scale(0.09412,0.07222)" fill="#0000ff" stroke="#0000ff" stroke-width="1.94" stroke-linejoin="round"><text x="0" y="-0" font-size="100" xml:space="preserve">u</text></g>
<g transform="translate(473.95,220.9) scale(0.09394,0.10145)" fill="#0000ff" stroke="#0000ff" stroke-width="1.64" stroke-linejoin="round"><text x="0" y="-0" font-size="100" xml:space="preserve">A</text></g>
<g transform="translate(483.55,217.33) scale(0.06170,0.07465)" fill="#0000ff" stroke="#0000ff" stroke-width="2.36" stroke-linejoin="round"><text x="0" y="-0" font-size="100" xml:space="preserve">3</text></g>
<g transform="translate(488.4,220.9) scale(0.09143,0.10145)" fill="#0000ff" stroke="#0000ff" stroke-width="1.66" stroke-linejoin="round"><text x="0" y="-0" font-size="100" xml:space="preserve">Σ</text></g>
<g transform="translate(493.6,222.72) scale(0.09176,0.07593)" fill="#0000ff" stroke="#0000ff" stroke-width="1.92" stroke-linejoin="round"><text x="0" y="-0" font-size="100" xml:space="preserve">u</text></g>
<g transform="translate(495.41,218.21) scale(0.09897,0.08980)" fill="#0000ff" stroke="#0000ff" stroke-width="1.7" stroke-linejoin="round"><text x="0" y="-0" font-size="100" xml:space="preserve">+</text></g>
</svg></body></html>
